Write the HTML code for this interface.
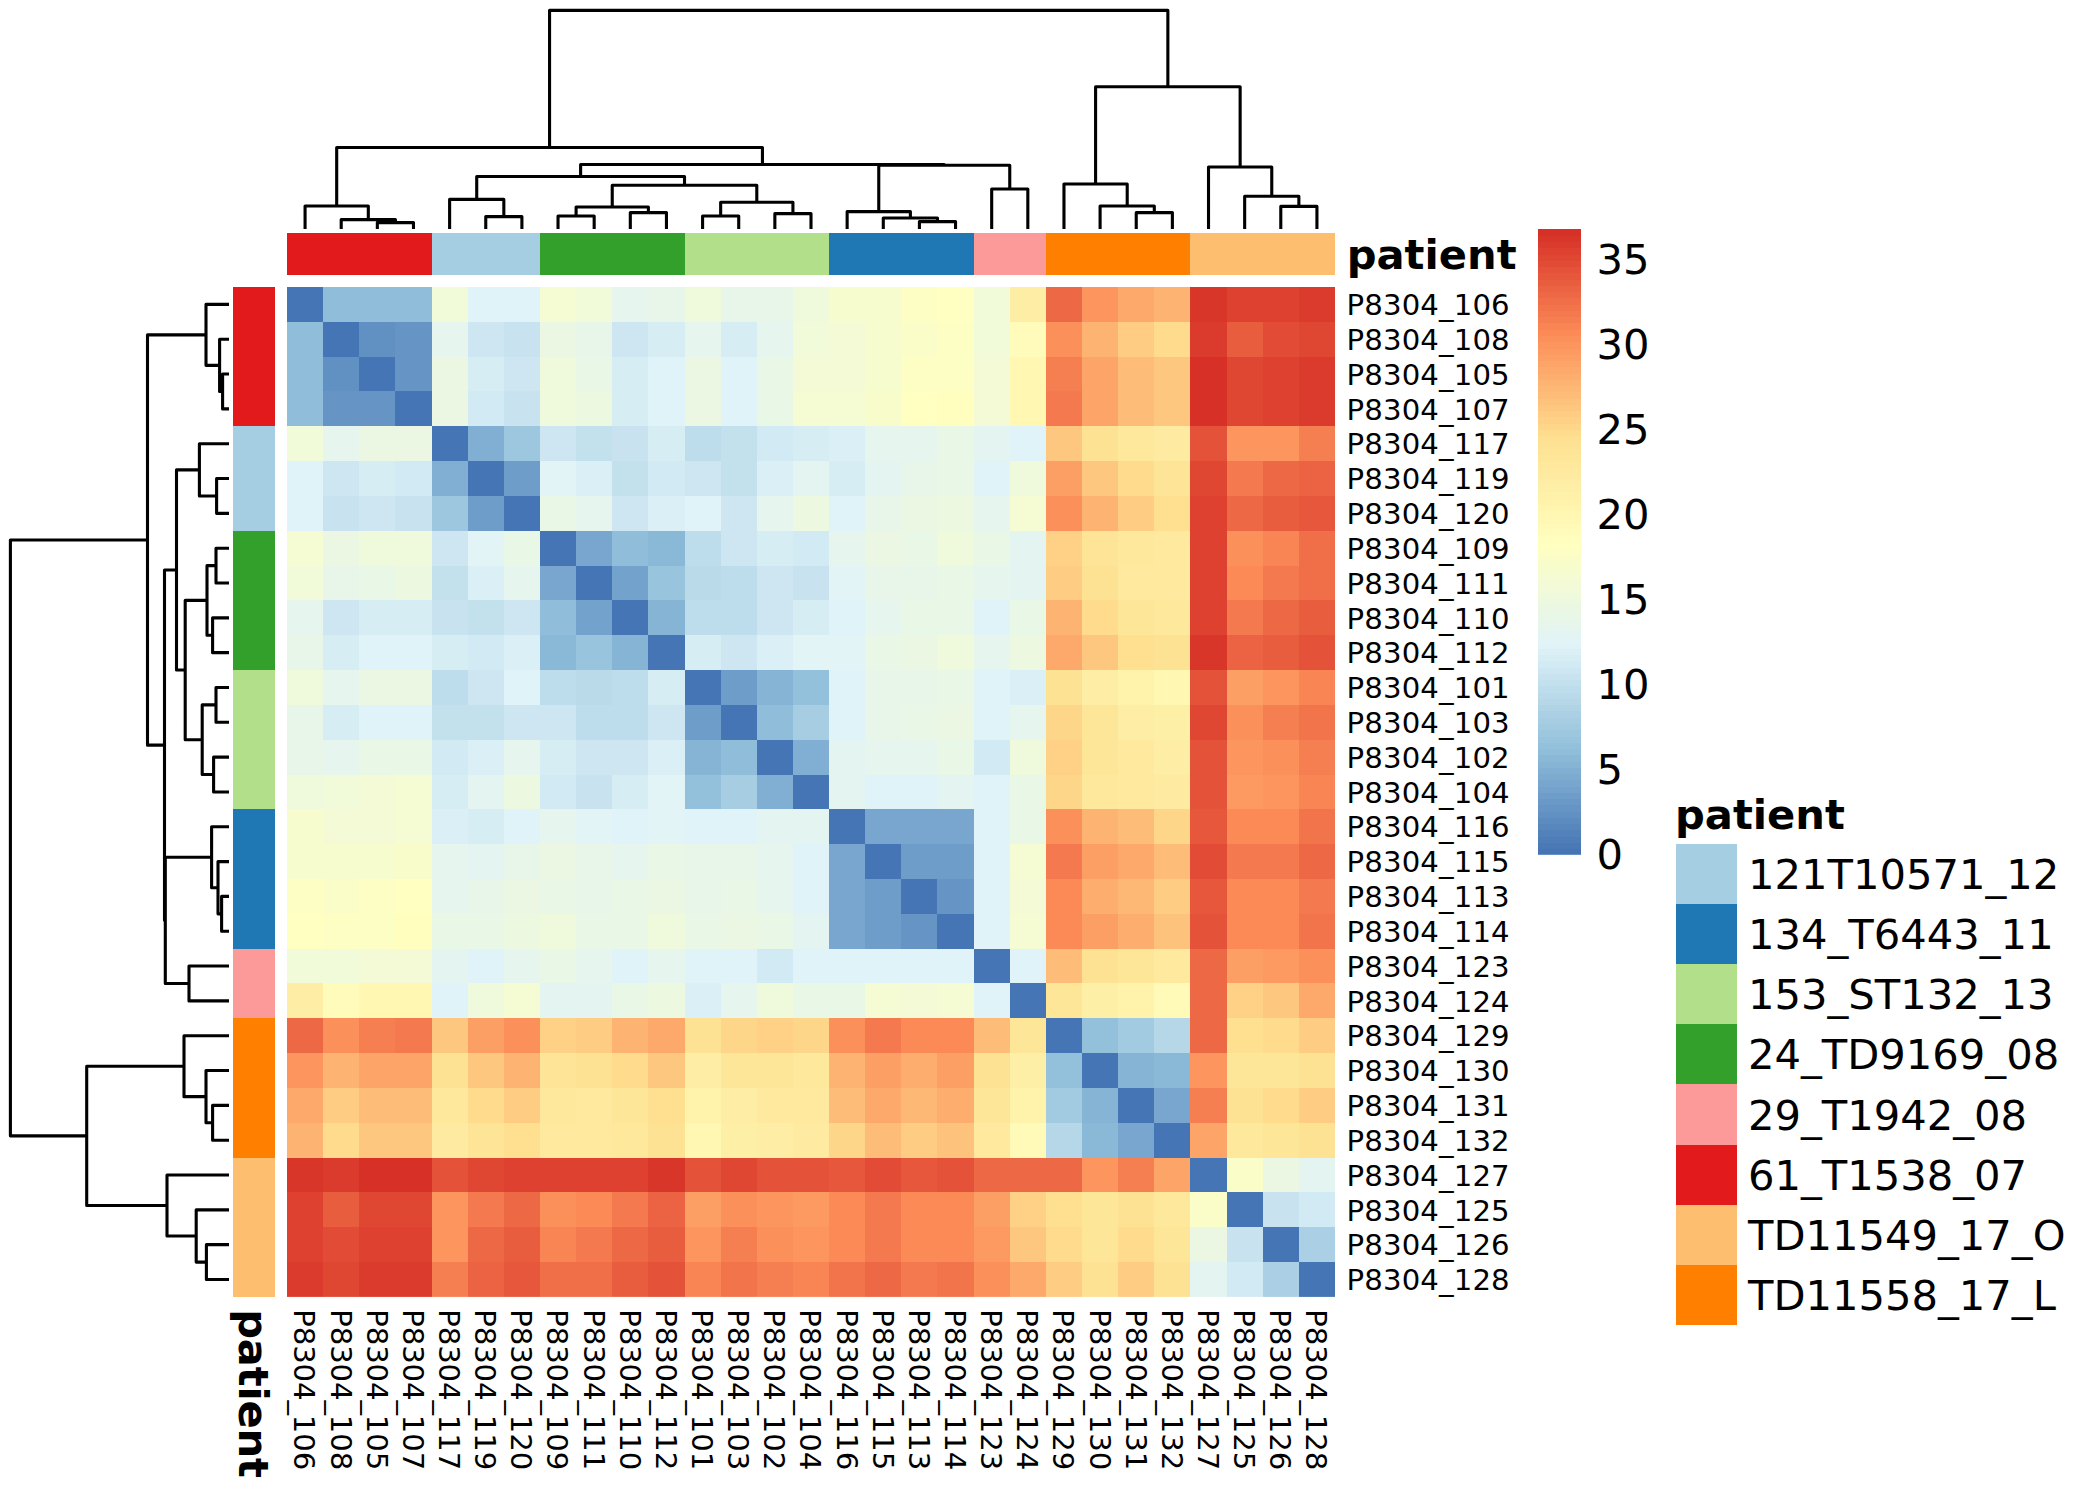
<!DOCTYPE html>
<html><head><meta charset="utf-8"><title>heatmap</title>
<style>html,body{margin:0;padding:0;background:#fff}svg{display:block}text{font-family:"DejaVu Sans","Liberation Sans",sans-serif;fill:#000}.b{font-weight:bold}</style></head><body>
<svg width="2100" height="1500" viewBox="0 0 2100 1500">
<rect width="2100" height="1500" fill="#fff"/>
<g shape-rendering="crispEdges">
<rect x="287" y="287" width="36.74" height="35.42" fill="#4575B4"/>
<rect x="323.14" y="287" width="36.74" height="35.42" fill="#8FBDDA"/>
<rect x="359.28" y="287" width="36.74" height="35.42" fill="#8FBDDA"/>
<rect x="395.41" y="287" width="36.74" height="35.42" fill="#8FBDDA"/>
<rect x="431.55" y="287" width="36.74" height="35.42" fill="#F1FAD9"/>
<rect x="467.69" y="287" width="36.74" height="35.42" fill="#E0F3F8"/>
<rect x="503.83" y="287" width="36.74" height="35.42" fill="#E0F3F8"/>
<rect x="539.97" y="287" width="36.74" height="35.42" fill="#F5FBD2"/>
<rect x="576.1" y="287" width="36.74" height="35.42" fill="#F1FAD9"/>
<rect x="612.24" y="287" width="36.74" height="35.42" fill="#E6F5EE"/>
<rect x="648.38" y="287" width="36.74" height="35.42" fill="#E8F6EA"/>
<rect x="684.52" y="287" width="36.74" height="35.42" fill="#EFF9DC"/>
<rect x="720.66" y="287" width="36.74" height="35.42" fill="#E8F6EA"/>
<rect x="756.79" y="287" width="36.74" height="35.42" fill="#E8F6EA"/>
<rect x="792.93" y="287" width="36.74" height="35.42" fill="#EFF9DC"/>
<rect x="829.07" y="287" width="36.74" height="35.42" fill="#F7FCCF"/>
<rect x="865.21" y="287" width="36.74" height="35.42" fill="#F7FCCF"/>
<rect x="901.34" y="287" width="36.74" height="35.42" fill="#FCFEC4"/>
<rect x="937.48" y="287" width="36.74" height="35.42" fill="#FEFFC1"/>
<rect x="973.62" y="287" width="36.74" height="35.42" fill="#F1FAD9"/>
<rect x="1009.76" y="287" width="36.74" height="35.42" fill="#FEEDA4"/>
<rect x="1045.9" y="287" width="36.74" height="35.42" fill="#ED6845"/>
<rect x="1082.03" y="287" width="36.74" height="35.42" fill="#FC955E"/>
<rect x="1118.17" y="287" width="36.74" height="35.42" fill="#FDA96B"/>
<rect x="1154.31" y="287" width="36.74" height="35.42" fill="#FDB372"/>
<rect x="1190.45" y="287" width="36.74" height="35.42" fill="#D9362A"/>
<rect x="1226.59" y="287" width="36.74" height="35.42" fill="#DE4130"/>
<rect x="1262.72" y="287" width="36.74" height="35.42" fill="#DE4130"/>
<rect x="1298.86" y="287" width="36.74" height="35.42" fill="#DB3B2D"/>
<rect x="287" y="321.82" width="36.74" height="35.42" fill="#8FBDDA"/>
<rect x="323.14" y="321.82" width="36.74" height="35.42" fill="#4575B4"/>
<rect x="359.28" y="321.82" width="36.74" height="35.42" fill="#6190C2"/>
<rect x="395.41" y="321.82" width="36.74" height="35.42" fill="#6594C5"/>
<rect x="431.55" y="321.82" width="36.74" height="35.42" fill="#E6F5EE"/>
<rect x="467.69" y="321.82" width="36.74" height="35.42" fill="#CDE6F1"/>
<rect x="503.83" y="321.82" width="36.74" height="35.42" fill="#C8E3EF"/>
<rect x="539.97" y="321.82" width="36.74" height="35.42" fill="#EBF7E3"/>
<rect x="576.1" y="321.82" width="36.74" height="35.42" fill="#E8F6EA"/>
<rect x="612.24" y="321.82" width="36.74" height="35.42" fill="#CDE6F1"/>
<rect x="648.38" y="321.82" width="36.74" height="35.42" fill="#D6EDF4"/>
<rect x="684.52" y="321.82" width="36.74" height="35.42" fill="#E6F5EE"/>
<rect x="720.66" y="321.82" width="36.74" height="35.42" fill="#D6EDF4"/>
<rect x="756.79" y="321.82" width="36.74" height="35.42" fill="#E6F5EE"/>
<rect x="792.93" y="321.82" width="36.74" height="35.42" fill="#F1FAD9"/>
<rect x="829.07" y="321.82" width="36.74" height="35.42" fill="#F3FAD5"/>
<rect x="865.21" y="321.82" width="36.74" height="35.42" fill="#F7FCCF"/>
<rect x="901.34" y="321.82" width="36.74" height="35.42" fill="#FAFDC8"/>
<rect x="937.48" y="321.82" width="36.74" height="35.42" fill="#FCFEC4"/>
<rect x="973.62" y="321.82" width="36.74" height="35.42" fill="#F1FAD9"/>
<rect x="1009.76" y="321.82" width="36.74" height="35.42" fill="#FFFCBB"/>
<rect x="1045.9" y="321.82" width="36.74" height="35.42" fill="#FC905B"/>
<rect x="1082.03" y="321.82" width="36.74" height="35.42" fill="#FDB372"/>
<rect x="1118.17" y="321.82" width="36.74" height="35.42" fill="#FECC83"/>
<rect x="1154.31" y="321.82" width="36.74" height="35.42" fill="#FEDB8D"/>
<rect x="1190.45" y="321.82" width="36.74" height="35.42" fill="#DB3B2D"/>
<rect x="1226.59" y="321.82" width="36.74" height="35.42" fill="#E95D3F"/>
<rect x="1262.72" y="321.82" width="36.74" height="35.42" fill="#E24C36"/>
<rect x="1298.86" y="321.82" width="36.74" height="35.42" fill="#E04733"/>
<rect x="287" y="356.65" width="36.74" height="35.42" fill="#8FBDDA"/>
<rect x="323.14" y="356.65" width="36.74" height="35.42" fill="#6190C2"/>
<rect x="359.28" y="356.65" width="36.74" height="35.42" fill="#4575B4"/>
<rect x="395.41" y="356.65" width="36.74" height="35.42" fill="#6594C5"/>
<rect x="431.55" y="356.65" width="36.74" height="35.42" fill="#EBF7E3"/>
<rect x="467.69" y="356.65" width="36.74" height="35.42" fill="#D6EDF4"/>
<rect x="503.83" y="356.65" width="36.74" height="35.42" fill="#CDE6F1"/>
<rect x="539.97" y="356.65" width="36.74" height="35.42" fill="#EFF9DC"/>
<rect x="576.1" y="356.65" width="36.74" height="35.42" fill="#E9F7E7"/>
<rect x="612.24" y="356.65" width="36.74" height="35.42" fill="#D6EDF4"/>
<rect x="648.38" y="356.65" width="36.74" height="35.42" fill="#E0F3F8"/>
<rect x="684.52" y="356.65" width="36.74" height="35.42" fill="#EBF7E3"/>
<rect x="720.66" y="356.65" width="36.74" height="35.42" fill="#E0F3F8"/>
<rect x="756.79" y="356.65" width="36.74" height="35.42" fill="#E9F7E7"/>
<rect x="792.93" y="356.65" width="36.74" height="35.42" fill="#F3FAD5"/>
<rect x="829.07" y="356.65" width="36.74" height="35.42" fill="#F3FAD5"/>
<rect x="865.21" y="356.65" width="36.74" height="35.42" fill="#F7FCCF"/>
<rect x="901.34" y="356.65" width="36.74" height="35.42" fill="#FCFEC4"/>
<rect x="937.48" y="356.65" width="36.74" height="35.42" fill="#FCFEC4"/>
<rect x="973.62" y="356.65" width="36.74" height="35.42" fill="#F3FAD5"/>
<rect x="1009.76" y="356.65" width="36.74" height="35.42" fill="#FFF7B2"/>
<rect x="1045.9" y="356.65" width="36.74" height="35.42" fill="#F67F51"/>
<rect x="1082.03" y="356.65" width="36.74" height="35.42" fill="#FDA468"/>
<rect x="1118.17" y="356.65" width="36.74" height="35.42" fill="#FDBD79"/>
<rect x="1154.31" y="356.65" width="36.74" height="35.42" fill="#FDC77F"/>
<rect x="1190.45" y="356.65" width="36.74" height="35.42" fill="#D73027"/>
<rect x="1226.59" y="356.65" width="36.74" height="35.42" fill="#E04733"/>
<rect x="1262.72" y="356.65" width="36.74" height="35.42" fill="#DE4130"/>
<rect x="1298.86" y="356.65" width="36.74" height="35.42" fill="#DB3B2D"/>
<rect x="287" y="391.47" width="36.74" height="35.42" fill="#8FBDDA"/>
<rect x="323.14" y="391.47" width="36.74" height="35.42" fill="#6594C5"/>
<rect x="359.28" y="391.47" width="36.74" height="35.42" fill="#6594C5"/>
<rect x="395.41" y="391.47" width="36.74" height="35.42" fill="#4575B4"/>
<rect x="431.55" y="391.47" width="36.74" height="35.42" fill="#EBF7E3"/>
<rect x="467.69" y="391.47" width="36.74" height="35.42" fill="#D2EAF3"/>
<rect x="503.83" y="391.47" width="36.74" height="35.42" fill="#C8E3EF"/>
<rect x="539.97" y="391.47" width="36.74" height="35.42" fill="#EFF9DC"/>
<rect x="576.1" y="391.47" width="36.74" height="35.42" fill="#EDF8E0"/>
<rect x="612.24" y="391.47" width="36.74" height="35.42" fill="#D6EDF4"/>
<rect x="648.38" y="391.47" width="36.74" height="35.42" fill="#E0F3F8"/>
<rect x="684.52" y="391.47" width="36.74" height="35.42" fill="#EBF7E3"/>
<rect x="720.66" y="391.47" width="36.74" height="35.42" fill="#E0F3F8"/>
<rect x="756.79" y="391.47" width="36.74" height="35.42" fill="#E9F7E7"/>
<rect x="792.93" y="391.47" width="36.74" height="35.42" fill="#F5FBD2"/>
<rect x="829.07" y="391.47" width="36.74" height="35.42" fill="#F5FBD2"/>
<rect x="865.21" y="391.47" width="36.74" height="35.42" fill="#F8FCCB"/>
<rect x="901.34" y="391.47" width="36.74" height="35.42" fill="#FEFFC1"/>
<rect x="937.48" y="391.47" width="36.74" height="35.42" fill="#FFFEBE"/>
<rect x="973.62" y="391.47" width="36.74" height="35.42" fill="#F3FAD5"/>
<rect x="1009.76" y="391.47" width="36.74" height="35.42" fill="#FFF7B2"/>
<rect x="1045.9" y="391.47" width="36.74" height="35.42" fill="#F4794E"/>
<rect x="1082.03" y="391.47" width="36.74" height="35.42" fill="#FDA468"/>
<rect x="1118.17" y="391.47" width="36.74" height="35.42" fill="#FDBD79"/>
<rect x="1154.31" y="391.47" width="36.74" height="35.42" fill="#FDC77F"/>
<rect x="1190.45" y="391.47" width="36.74" height="35.42" fill="#D73027"/>
<rect x="1226.59" y="391.47" width="36.74" height="35.42" fill="#E04733"/>
<rect x="1262.72" y="391.47" width="36.74" height="35.42" fill="#DE4130"/>
<rect x="1298.86" y="391.47" width="36.74" height="35.42" fill="#DB3B2D"/>
<rect x="287" y="426.3" width="36.74" height="35.42" fill="#F1FAD9"/>
<rect x="323.14" y="426.3" width="36.74" height="35.42" fill="#E6F5EE"/>
<rect x="359.28" y="426.3" width="36.74" height="35.42" fill="#EBF7E3"/>
<rect x="395.41" y="426.3" width="36.74" height="35.42" fill="#EBF7E3"/>
<rect x="431.55" y="426.3" width="36.74" height="35.42" fill="#4575B4"/>
<rect x="467.69" y="426.3" width="36.74" height="35.42" fill="#81AFD3"/>
<rect x="503.83" y="426.3" width="36.74" height="35.42" fill="#9DC7DF"/>
<rect x="539.97" y="426.3" width="36.74" height="35.42" fill="#CDE6F1"/>
<rect x="576.1" y="426.3" width="36.74" height="35.42" fill="#C3E0ED"/>
<rect x="612.24" y="426.3" width="36.74" height="35.42" fill="#C8E3EF"/>
<rect x="648.38" y="426.3" width="36.74" height="35.42" fill="#D6EDF4"/>
<rect x="684.52" y="426.3" width="36.74" height="35.42" fill="#BEDDEC"/>
<rect x="720.66" y="426.3" width="36.74" height="35.42" fill="#C3E0ED"/>
<rect x="756.79" y="426.3" width="36.74" height="35.42" fill="#D2EAF3"/>
<rect x="792.93" y="426.3" width="36.74" height="35.42" fill="#D6EDF4"/>
<rect x="829.07" y="426.3" width="36.74" height="35.42" fill="#DBF0F6"/>
<rect x="865.21" y="426.3" width="36.74" height="35.42" fill="#E6F5EE"/>
<rect x="901.34" y="426.3" width="36.74" height="35.42" fill="#E6F5EE"/>
<rect x="937.48" y="426.3" width="36.74" height="35.42" fill="#E9F7E7"/>
<rect x="973.62" y="426.3" width="36.74" height="35.42" fill="#E4F4F1"/>
<rect x="1009.76" y="426.3" width="36.74" height="35.42" fill="#E0F3F8"/>
<rect x="1045.9" y="426.3" width="36.74" height="35.42" fill="#FDC77F"/>
<rect x="1082.03" y="426.3" width="36.74" height="35.42" fill="#FEE293"/>
<rect x="1118.17" y="426.3" width="36.74" height="35.42" fill="#FEE89B"/>
<rect x="1154.31" y="426.3" width="36.74" height="35.42" fill="#FEEBA1"/>
<rect x="1190.45" y="426.3" width="36.74" height="35.42" fill="#E45239"/>
<rect x="1226.59" y="426.3" width="36.74" height="35.42" fill="#FC955E"/>
<rect x="1262.72" y="426.3" width="36.74" height="35.42" fill="#FC955E"/>
<rect x="1298.86" y="426.3" width="36.74" height="35.42" fill="#F67F51"/>
<rect x="287" y="461.12" width="36.74" height="35.42" fill="#E0F3F8"/>
<rect x="323.14" y="461.12" width="36.74" height="35.42" fill="#CDE6F1"/>
<rect x="359.28" y="461.12" width="36.74" height="35.42" fill="#D6EDF4"/>
<rect x="395.41" y="461.12" width="36.74" height="35.42" fill="#D2EAF3"/>
<rect x="431.55" y="461.12" width="36.74" height="35.42" fill="#81AFD3"/>
<rect x="467.69" y="461.12" width="36.74" height="35.42" fill="#4575B4"/>
<rect x="503.83" y="461.12" width="36.74" height="35.42" fill="#6E9DC9"/>
<rect x="539.97" y="461.12" width="36.74" height="35.42" fill="#E2F4F5"/>
<rect x="576.1" y="461.12" width="36.74" height="35.42" fill="#DBF0F6"/>
<rect x="612.24" y="461.12" width="36.74" height="35.42" fill="#C3E0ED"/>
<rect x="648.38" y="461.12" width="36.74" height="35.42" fill="#D2EAF3"/>
<rect x="684.52" y="461.12" width="36.74" height="35.42" fill="#CDE6F1"/>
<rect x="720.66" y="461.12" width="36.74" height="35.42" fill="#C3E0ED"/>
<rect x="756.79" y="461.12" width="36.74" height="35.42" fill="#DBF0F6"/>
<rect x="792.93" y="461.12" width="36.74" height="35.42" fill="#E4F4F1"/>
<rect x="829.07" y="461.12" width="36.74" height="35.42" fill="#D6EDF4"/>
<rect x="865.21" y="461.12" width="36.74" height="35.42" fill="#E4F4F1"/>
<rect x="901.34" y="461.12" width="36.74" height="35.42" fill="#E8F6EA"/>
<rect x="937.48" y="461.12" width="36.74" height="35.42" fill="#E9F7E7"/>
<rect x="973.62" y="461.12" width="36.74" height="35.42" fill="#E0F3F8"/>
<rect x="1009.76" y="461.12" width="36.74" height="35.42" fill="#EFF9DC"/>
<rect x="1045.9" y="461.12" width="36.74" height="35.42" fill="#FC9F65"/>
<rect x="1082.03" y="461.12" width="36.74" height="35.42" fill="#FDC77F"/>
<rect x="1118.17" y="461.12" width="36.74" height="35.42" fill="#FEDB8D"/>
<rect x="1154.31" y="461.12" width="36.74" height="35.42" fill="#FEE496"/>
<rect x="1190.45" y="461.12" width="36.74" height="35.42" fill="#E04733"/>
<rect x="1226.59" y="461.12" width="36.74" height="35.42" fill="#F4794E"/>
<rect x="1262.72" y="461.12" width="36.74" height="35.42" fill="#ED6845"/>
<rect x="1298.86" y="461.12" width="36.74" height="35.42" fill="#EB6342"/>
<rect x="287" y="495.94" width="36.74" height="35.42" fill="#E0F3F8"/>
<rect x="323.14" y="495.94" width="36.74" height="35.42" fill="#C8E3EF"/>
<rect x="359.28" y="495.94" width="36.74" height="35.42" fill="#CDE6F1"/>
<rect x="395.41" y="495.94" width="36.74" height="35.42" fill="#C8E3EF"/>
<rect x="431.55" y="495.94" width="36.74" height="35.42" fill="#9DC7DF"/>
<rect x="467.69" y="495.94" width="36.74" height="35.42" fill="#6E9DC9"/>
<rect x="503.83" y="495.94" width="36.74" height="35.42" fill="#4575B4"/>
<rect x="539.97" y="495.94" width="36.74" height="35.42" fill="#E9F7E7"/>
<rect x="576.1" y="495.94" width="36.74" height="35.42" fill="#E6F5EE"/>
<rect x="612.24" y="495.94" width="36.74" height="35.42" fill="#CDE6F1"/>
<rect x="648.38" y="495.94" width="36.74" height="35.42" fill="#DBF0F6"/>
<rect x="684.52" y="495.94" width="36.74" height="35.42" fill="#E0F3F8"/>
<rect x="720.66" y="495.94" width="36.74" height="35.42" fill="#CDE6F1"/>
<rect x="756.79" y="495.94" width="36.74" height="35.42" fill="#E6F5EE"/>
<rect x="792.93" y="495.94" width="36.74" height="35.42" fill="#EDF8E0"/>
<rect x="829.07" y="495.94" width="36.74" height="35.42" fill="#E0F3F8"/>
<rect x="865.21" y="495.94" width="36.74" height="35.42" fill="#E8F6EA"/>
<rect x="901.34" y="495.94" width="36.74" height="35.42" fill="#EBF7E3"/>
<rect x="937.48" y="495.94" width="36.74" height="35.42" fill="#EDF8E0"/>
<rect x="973.62" y="495.94" width="36.74" height="35.42" fill="#E6F5EE"/>
<rect x="1009.76" y="495.94" width="36.74" height="35.42" fill="#F5FBD2"/>
<rect x="1045.9" y="495.94" width="36.74" height="35.42" fill="#FC905B"/>
<rect x="1082.03" y="495.94" width="36.74" height="35.42" fill="#FDB372"/>
<rect x="1118.17" y="495.94" width="36.74" height="35.42" fill="#FECC83"/>
<rect x="1154.31" y="495.94" width="36.74" height="35.42" fill="#FEE090"/>
<rect x="1190.45" y="495.94" width="36.74" height="35.42" fill="#DE4130"/>
<rect x="1226.59" y="495.94" width="36.74" height="35.42" fill="#ED6845"/>
<rect x="1262.72" y="495.94" width="36.74" height="35.42" fill="#E95D3F"/>
<rect x="1298.86" y="495.94" width="36.74" height="35.42" fill="#E7573C"/>
<rect x="287" y="530.77" width="36.74" height="35.42" fill="#F5FBD2"/>
<rect x="323.14" y="530.77" width="36.74" height="35.42" fill="#EBF7E3"/>
<rect x="359.28" y="530.77" width="36.74" height="35.42" fill="#EFF9DC"/>
<rect x="395.41" y="530.77" width="36.74" height="35.42" fill="#EFF9DC"/>
<rect x="431.55" y="530.77" width="36.74" height="35.42" fill="#CDE6F1"/>
<rect x="467.69" y="530.77" width="36.74" height="35.42" fill="#E2F4F5"/>
<rect x="503.83" y="530.77" width="36.74" height="35.42" fill="#E9F7E7"/>
<rect x="539.97" y="530.77" width="36.74" height="35.42" fill="#4575B4"/>
<rect x="576.1" y="530.77" width="36.74" height="35.42" fill="#78A6CE"/>
<rect x="612.24" y="530.77" width="36.74" height="35.42" fill="#8FBDDA"/>
<rect x="648.38" y="530.77" width="36.74" height="35.42" fill="#8AB8D7"/>
<rect x="684.52" y="530.77" width="36.74" height="35.42" fill="#BEDDEC"/>
<rect x="720.66" y="530.77" width="36.74" height="35.42" fill="#CDE6F1"/>
<rect x="756.79" y="530.77" width="36.74" height="35.42" fill="#D6EDF4"/>
<rect x="792.93" y="530.77" width="36.74" height="35.42" fill="#D2EAF3"/>
<rect x="829.07" y="530.77" width="36.74" height="35.42" fill="#E6F5EE"/>
<rect x="865.21" y="530.77" width="36.74" height="35.42" fill="#EBF7E3"/>
<rect x="901.34" y="530.77" width="36.74" height="35.42" fill="#E9F7E7"/>
<rect x="937.48" y="530.77" width="36.74" height="35.42" fill="#EFF9DC"/>
<rect x="973.62" y="530.77" width="36.74" height="35.42" fill="#E9F7E7"/>
<rect x="1009.76" y="530.77" width="36.74" height="35.42" fill="#E4F4F1"/>
<rect x="1045.9" y="530.77" width="36.74" height="35.42" fill="#FED186"/>
<rect x="1082.03" y="530.77" width="36.74" height="35.42" fill="#FEE496"/>
<rect x="1118.17" y="530.77" width="36.74" height="35.42" fill="#FEE89B"/>
<rect x="1154.31" y="530.77" width="36.74" height="35.42" fill="#FEE99E"/>
<rect x="1190.45" y="530.77" width="36.74" height="35.42" fill="#DE4130"/>
<rect x="1226.59" y="530.77" width="36.74" height="35.42" fill="#FC905B"/>
<rect x="1262.72" y="530.77" width="36.74" height="35.42" fill="#F98554"/>
<rect x="1298.86" y="530.77" width="36.74" height="35.42" fill="#F06E48"/>
<rect x="287" y="565.59" width="36.74" height="35.42" fill="#F1FAD9"/>
<rect x="323.14" y="565.59" width="36.74" height="35.42" fill="#E8F6EA"/>
<rect x="359.28" y="565.59" width="36.74" height="35.42" fill="#E9F7E7"/>
<rect x="395.41" y="565.59" width="36.74" height="35.42" fill="#EDF8E0"/>
<rect x="431.55" y="565.59" width="36.74" height="35.42" fill="#C3E0ED"/>
<rect x="467.69" y="565.59" width="36.74" height="35.42" fill="#DBF0F6"/>
<rect x="503.83" y="565.59" width="36.74" height="35.42" fill="#E6F5EE"/>
<rect x="539.97" y="565.59" width="36.74" height="35.42" fill="#78A6CE"/>
<rect x="576.1" y="565.59" width="36.74" height="35.42" fill="#4575B4"/>
<rect x="612.24" y="565.59" width="36.74" height="35.42" fill="#73A2CC"/>
<rect x="648.38" y="565.59" width="36.74" height="35.42" fill="#98C4DE"/>
<rect x="684.52" y="565.59" width="36.74" height="35.42" fill="#BADAEA"/>
<rect x="720.66" y="565.59" width="36.74" height="35.42" fill="#BEDDEC"/>
<rect x="756.79" y="565.59" width="36.74" height="35.42" fill="#CDE6F1"/>
<rect x="792.93" y="565.59" width="36.74" height="35.42" fill="#C8E3EF"/>
<rect x="829.07" y="565.59" width="36.74" height="35.42" fill="#E2F4F5"/>
<rect x="865.21" y="565.59" width="36.74" height="35.42" fill="#E8F6EA"/>
<rect x="901.34" y="565.59" width="36.74" height="35.42" fill="#E8F6EA"/>
<rect x="937.48" y="565.59" width="36.74" height="35.42" fill="#E9F7E7"/>
<rect x="973.62" y="565.59" width="36.74" height="35.42" fill="#E6F5EE"/>
<rect x="1009.76" y="565.59" width="36.74" height="35.42" fill="#E4F4F1"/>
<rect x="1045.9" y="565.59" width="36.74" height="35.42" fill="#FECC83"/>
<rect x="1082.03" y="565.59" width="36.74" height="35.42" fill="#FEE293"/>
<rect x="1118.17" y="565.59" width="36.74" height="35.42" fill="#FEE99E"/>
<rect x="1154.31" y="565.59" width="36.74" height="35.42" fill="#FEE99E"/>
<rect x="1190.45" y="565.59" width="36.74" height="35.42" fill="#DE4130"/>
<rect x="1226.59" y="565.59" width="36.74" height="35.42" fill="#FB8A57"/>
<rect x="1262.72" y="565.59" width="36.74" height="35.42" fill="#F4794E"/>
<rect x="1298.86" y="565.59" width="36.74" height="35.42" fill="#F06E48"/>
<rect x="287" y="600.42" width="36.74" height="35.42" fill="#E6F5EE"/>
<rect x="323.14" y="600.42" width="36.74" height="35.42" fill="#CDE6F1"/>
<rect x="359.28" y="600.42" width="36.74" height="35.42" fill="#D6EDF4"/>
<rect x="395.41" y="600.42" width="36.74" height="35.42" fill="#D6EDF4"/>
<rect x="431.55" y="600.42" width="36.74" height="35.42" fill="#C8E3EF"/>
<rect x="467.69" y="600.42" width="36.74" height="35.42" fill="#C3E0ED"/>
<rect x="503.83" y="600.42" width="36.74" height="35.42" fill="#CDE6F1"/>
<rect x="539.97" y="600.42" width="36.74" height="35.42" fill="#8FBDDA"/>
<rect x="576.1" y="600.42" width="36.74" height="35.42" fill="#73A2CC"/>
<rect x="612.24" y="600.42" width="36.74" height="35.42" fill="#4575B4"/>
<rect x="648.38" y="600.42" width="36.74" height="35.42" fill="#85B4D5"/>
<rect x="684.52" y="600.42" width="36.74" height="35.42" fill="#BEDDEC"/>
<rect x="720.66" y="600.42" width="36.74" height="35.42" fill="#BEDDEC"/>
<rect x="756.79" y="600.42" width="36.74" height="35.42" fill="#CDE6F1"/>
<rect x="792.93" y="600.42" width="36.74" height="35.42" fill="#D6EDF4"/>
<rect x="829.07" y="600.42" width="36.74" height="35.42" fill="#E0F3F8"/>
<rect x="865.21" y="600.42" width="36.74" height="35.42" fill="#E6F5EE"/>
<rect x="901.34" y="600.42" width="36.74" height="35.42" fill="#E9F7E7"/>
<rect x="937.48" y="600.42" width="36.74" height="35.42" fill="#E9F7E7"/>
<rect x="973.62" y="600.42" width="36.74" height="35.42" fill="#E0F3F8"/>
<rect x="1009.76" y="600.42" width="36.74" height="35.42" fill="#E9F7E7"/>
<rect x="1045.9" y="600.42" width="36.74" height="35.42" fill="#FDB372"/>
<rect x="1082.03" y="600.42" width="36.74" height="35.42" fill="#FEDB8D"/>
<rect x="1118.17" y="600.42" width="36.74" height="35.42" fill="#FEE699"/>
<rect x="1154.31" y="600.42" width="36.74" height="35.42" fill="#FEE89B"/>
<rect x="1190.45" y="600.42" width="36.74" height="35.42" fill="#DE4130"/>
<rect x="1226.59" y="600.42" width="36.74" height="35.42" fill="#F4794E"/>
<rect x="1262.72" y="600.42" width="36.74" height="35.42" fill="#ED6845"/>
<rect x="1298.86" y="600.42" width="36.74" height="35.42" fill="#E95D3F"/>
<rect x="287" y="635.24" width="36.74" height="35.42" fill="#E8F6EA"/>
<rect x="323.14" y="635.24" width="36.74" height="35.42" fill="#D6EDF4"/>
<rect x="359.28" y="635.24" width="36.74" height="35.42" fill="#E0F3F8"/>
<rect x="395.41" y="635.24" width="36.74" height="35.42" fill="#E0F3F8"/>
<rect x="431.55" y="635.24" width="36.74" height="35.42" fill="#D6EDF4"/>
<rect x="467.69" y="635.24" width="36.74" height="35.42" fill="#D2EAF3"/>
<rect x="503.83" y="635.24" width="36.74" height="35.42" fill="#DBF0F6"/>
<rect x="539.97" y="635.24" width="36.74" height="35.42" fill="#8AB8D7"/>
<rect x="576.1" y="635.24" width="36.74" height="35.42" fill="#98C4DE"/>
<rect x="612.24" y="635.24" width="36.74" height="35.42" fill="#85B4D5"/>
<rect x="648.38" y="635.24" width="36.74" height="35.42" fill="#4575B4"/>
<rect x="684.52" y="635.24" width="36.74" height="35.42" fill="#D6EDF4"/>
<rect x="720.66" y="635.24" width="36.74" height="35.42" fill="#CDE6F1"/>
<rect x="756.79" y="635.24" width="36.74" height="35.42" fill="#DBF0F6"/>
<rect x="792.93" y="635.24" width="36.74" height="35.42" fill="#E2F4F5"/>
<rect x="829.07" y="635.24" width="36.74" height="35.42" fill="#E2F4F5"/>
<rect x="865.21" y="635.24" width="36.74" height="35.42" fill="#E9F7E7"/>
<rect x="901.34" y="635.24" width="36.74" height="35.42" fill="#EBF7E3"/>
<rect x="937.48" y="635.24" width="36.74" height="35.42" fill="#EFF9DC"/>
<rect x="973.62" y="635.24" width="36.74" height="35.42" fill="#E6F5EE"/>
<rect x="1009.76" y="635.24" width="36.74" height="35.42" fill="#EDF8E0"/>
<rect x="1045.9" y="635.24" width="36.74" height="35.42" fill="#FDA96B"/>
<rect x="1082.03" y="635.24" width="36.74" height="35.42" fill="#FDC77F"/>
<rect x="1118.17" y="635.24" width="36.74" height="35.42" fill="#FEE090"/>
<rect x="1154.31" y="635.24" width="36.74" height="35.42" fill="#FEE293"/>
<rect x="1190.45" y="635.24" width="36.74" height="35.42" fill="#D9362A"/>
<rect x="1226.59" y="635.24" width="36.74" height="35.42" fill="#EB6342"/>
<rect x="1262.72" y="635.24" width="36.74" height="35.42" fill="#E95D3F"/>
<rect x="1298.86" y="635.24" width="36.74" height="35.42" fill="#E45239"/>
<rect x="287" y="670.07" width="36.74" height="35.42" fill="#EFF9DC"/>
<rect x="323.14" y="670.07" width="36.74" height="35.42" fill="#E6F5EE"/>
<rect x="359.28" y="670.07" width="36.74" height="35.42" fill="#EBF7E3"/>
<rect x="395.41" y="670.07" width="36.74" height="35.42" fill="#EBF7E3"/>
<rect x="431.55" y="670.07" width="36.74" height="35.42" fill="#BEDDEC"/>
<rect x="467.69" y="670.07" width="36.74" height="35.42" fill="#CDE6F1"/>
<rect x="503.83" y="670.07" width="36.74" height="35.42" fill="#E0F3F8"/>
<rect x="539.97" y="670.07" width="36.74" height="35.42" fill="#BEDDEC"/>
<rect x="576.1" y="670.07" width="36.74" height="35.42" fill="#BADAEA"/>
<rect x="612.24" y="670.07" width="36.74" height="35.42" fill="#BEDDEC"/>
<rect x="648.38" y="670.07" width="36.74" height="35.42" fill="#D6EDF4"/>
<rect x="684.52" y="670.07" width="36.74" height="35.42" fill="#4575B4"/>
<rect x="720.66" y="670.07" width="36.74" height="35.42" fill="#6E9DC9"/>
<rect x="756.79" y="670.07" width="36.74" height="35.42" fill="#85B4D5"/>
<rect x="792.93" y="670.07" width="36.74" height="35.42" fill="#93C1DC"/>
<rect x="829.07" y="670.07" width="36.74" height="35.42" fill="#E0F3F8"/>
<rect x="865.21" y="670.07" width="36.74" height="35.42" fill="#E8F6EA"/>
<rect x="901.34" y="670.07" width="36.74" height="35.42" fill="#E8F6EA"/>
<rect x="937.48" y="670.07" width="36.74" height="35.42" fill="#E9F7E7"/>
<rect x="973.62" y="670.07" width="36.74" height="35.42" fill="#E0F3F8"/>
<rect x="1009.76" y="670.07" width="36.74" height="35.42" fill="#DBF0F6"/>
<rect x="1045.9" y="670.07" width="36.74" height="35.42" fill="#FEE293"/>
<rect x="1082.03" y="670.07" width="36.74" height="35.42" fill="#FEEDA4"/>
<rect x="1118.17" y="670.07" width="36.74" height="35.42" fill="#FFF3AC"/>
<rect x="1154.31" y="670.07" width="36.74" height="35.42" fill="#FFF7B2"/>
<rect x="1190.45" y="670.07" width="36.74" height="35.42" fill="#E45239"/>
<rect x="1226.59" y="670.07" width="36.74" height="35.42" fill="#FC9F65"/>
<rect x="1262.72" y="670.07" width="36.74" height="35.42" fill="#FC955E"/>
<rect x="1298.86" y="670.07" width="36.74" height="35.42" fill="#F98554"/>
<rect x="287" y="704.89" width="36.74" height="35.42" fill="#E8F6EA"/>
<rect x="323.14" y="704.89" width="36.74" height="35.42" fill="#D6EDF4"/>
<rect x="359.28" y="704.89" width="36.74" height="35.42" fill="#E0F3F8"/>
<rect x="395.41" y="704.89" width="36.74" height="35.42" fill="#E0F3F8"/>
<rect x="431.55" y="704.89" width="36.74" height="35.42" fill="#C3E0ED"/>
<rect x="467.69" y="704.89" width="36.74" height="35.42" fill="#C3E0ED"/>
<rect x="503.83" y="704.89" width="36.74" height="35.42" fill="#CDE6F1"/>
<rect x="539.97" y="704.89" width="36.74" height="35.42" fill="#CDE6F1"/>
<rect x="576.1" y="704.89" width="36.74" height="35.42" fill="#BEDDEC"/>
<rect x="612.24" y="704.89" width="36.74" height="35.42" fill="#BEDDEC"/>
<rect x="648.38" y="704.89" width="36.74" height="35.42" fill="#CDE6F1"/>
<rect x="684.52" y="704.89" width="36.74" height="35.42" fill="#6E9DC9"/>
<rect x="720.66" y="704.89" width="36.74" height="35.42" fill="#4575B4"/>
<rect x="756.79" y="704.89" width="36.74" height="35.42" fill="#8FBDDA"/>
<rect x="792.93" y="704.89" width="36.74" height="35.42" fill="#A7CDE3"/>
<rect x="829.07" y="704.89" width="36.74" height="35.42" fill="#E0F3F8"/>
<rect x="865.21" y="704.89" width="36.74" height="35.42" fill="#E8F6EA"/>
<rect x="901.34" y="704.89" width="36.74" height="35.42" fill="#E9F7E7"/>
<rect x="937.48" y="704.89" width="36.74" height="35.42" fill="#EBF7E3"/>
<rect x="973.62" y="704.89" width="36.74" height="35.42" fill="#E0F3F8"/>
<rect x="1009.76" y="704.89" width="36.74" height="35.42" fill="#E6F5EE"/>
<rect x="1045.9" y="704.89" width="36.74" height="35.42" fill="#FED689"/>
<rect x="1082.03" y="704.89" width="36.74" height="35.42" fill="#FEE699"/>
<rect x="1118.17" y="704.89" width="36.74" height="35.42" fill="#FEEDA4"/>
<rect x="1154.31" y="704.89" width="36.74" height="35.42" fill="#FEEFA7"/>
<rect x="1190.45" y="704.89" width="36.74" height="35.42" fill="#E04733"/>
<rect x="1226.59" y="704.89" width="36.74" height="35.42" fill="#FC905B"/>
<rect x="1262.72" y="704.89" width="36.74" height="35.42" fill="#F67F51"/>
<rect x="1298.86" y="704.89" width="36.74" height="35.42" fill="#F2744B"/>
<rect x="287" y="739.71" width="36.74" height="35.42" fill="#E8F6EA"/>
<rect x="323.14" y="739.71" width="36.74" height="35.42" fill="#E6F5EE"/>
<rect x="359.28" y="739.71" width="36.74" height="35.42" fill="#E9F7E7"/>
<rect x="395.41" y="739.71" width="36.74" height="35.42" fill="#E9F7E7"/>
<rect x="431.55" y="739.71" width="36.74" height="35.42" fill="#D2EAF3"/>
<rect x="467.69" y="739.71" width="36.74" height="35.42" fill="#DBF0F6"/>
<rect x="503.83" y="739.71" width="36.74" height="35.42" fill="#E6F5EE"/>
<rect x="539.97" y="739.71" width="36.74" height="35.42" fill="#D6EDF4"/>
<rect x="576.1" y="739.71" width="36.74" height="35.42" fill="#CDE6F1"/>
<rect x="612.24" y="739.71" width="36.74" height="35.42" fill="#CDE6F1"/>
<rect x="648.38" y="739.71" width="36.74" height="35.42" fill="#DBF0F6"/>
<rect x="684.52" y="739.71" width="36.74" height="35.42" fill="#85B4D5"/>
<rect x="720.66" y="739.71" width="36.74" height="35.42" fill="#8FBDDA"/>
<rect x="756.79" y="739.71" width="36.74" height="35.42" fill="#4575B4"/>
<rect x="792.93" y="739.71" width="36.74" height="35.42" fill="#81AFD3"/>
<rect x="829.07" y="739.71" width="36.74" height="35.42" fill="#E4F4F1"/>
<rect x="865.21" y="739.71" width="36.74" height="35.42" fill="#E6F5EE"/>
<rect x="901.34" y="739.71" width="36.74" height="35.42" fill="#E6F5EE"/>
<rect x="937.48" y="739.71" width="36.74" height="35.42" fill="#E9F7E7"/>
<rect x="973.62" y="739.71" width="36.74" height="35.42" fill="#D2EAF3"/>
<rect x="1009.76" y="739.71" width="36.74" height="35.42" fill="#EFF9DC"/>
<rect x="1045.9" y="739.71" width="36.74" height="35.42" fill="#FED186"/>
<rect x="1082.03" y="739.71" width="36.74" height="35.42" fill="#FEE699"/>
<rect x="1118.17" y="739.71" width="36.74" height="35.42" fill="#FEE99E"/>
<rect x="1154.31" y="739.71" width="36.74" height="35.42" fill="#FEEDA4"/>
<rect x="1190.45" y="739.71" width="36.74" height="35.42" fill="#E45239"/>
<rect x="1226.59" y="739.71" width="36.74" height="35.42" fill="#FC955E"/>
<rect x="1262.72" y="739.71" width="36.74" height="35.42" fill="#FC905B"/>
<rect x="1298.86" y="739.71" width="36.74" height="35.42" fill="#F67F51"/>
<rect x="287" y="774.54" width="36.74" height="35.42" fill="#EFF9DC"/>
<rect x="323.14" y="774.54" width="36.74" height="35.42" fill="#F1FAD9"/>
<rect x="359.28" y="774.54" width="36.74" height="35.42" fill="#F3FAD5"/>
<rect x="395.41" y="774.54" width="36.74" height="35.42" fill="#F5FBD2"/>
<rect x="431.55" y="774.54" width="36.74" height="35.42" fill="#D6EDF4"/>
<rect x="467.69" y="774.54" width="36.74" height="35.42" fill="#E4F4F1"/>
<rect x="503.83" y="774.54" width="36.74" height="35.42" fill="#EDF8E0"/>
<rect x="539.97" y="774.54" width="36.74" height="35.42" fill="#D2EAF3"/>
<rect x="576.1" y="774.54" width="36.74" height="35.42" fill="#C8E3EF"/>
<rect x="612.24" y="774.54" width="36.74" height="35.42" fill="#D6EDF4"/>
<rect x="648.38" y="774.54" width="36.74" height="35.42" fill="#E2F4F5"/>
<rect x="684.52" y="774.54" width="36.74" height="35.42" fill="#93C1DC"/>
<rect x="720.66" y="774.54" width="36.74" height="35.42" fill="#A7CDE3"/>
<rect x="756.79" y="774.54" width="36.74" height="35.42" fill="#81AFD3"/>
<rect x="792.93" y="774.54" width="36.74" height="35.42" fill="#4575B4"/>
<rect x="829.07" y="774.54" width="36.74" height="35.42" fill="#E4F4F1"/>
<rect x="865.21" y="774.54" width="36.74" height="35.42" fill="#E0F3F8"/>
<rect x="901.34" y="774.54" width="36.74" height="35.42" fill="#E0F3F8"/>
<rect x="937.48" y="774.54" width="36.74" height="35.42" fill="#E4F4F1"/>
<rect x="973.62" y="774.54" width="36.74" height="35.42" fill="#E0F3F8"/>
<rect x="1009.76" y="774.54" width="36.74" height="35.42" fill="#E9F7E7"/>
<rect x="1045.9" y="774.54" width="36.74" height="35.42" fill="#FED689"/>
<rect x="1082.03" y="774.54" width="36.74" height="35.42" fill="#FEE89B"/>
<rect x="1118.17" y="774.54" width="36.74" height="35.42" fill="#FEE99E"/>
<rect x="1154.31" y="774.54" width="36.74" height="35.42" fill="#FEEBA1"/>
<rect x="1190.45" y="774.54" width="36.74" height="35.42" fill="#E45239"/>
<rect x="1226.59" y="774.54" width="36.74" height="35.42" fill="#FC9A61"/>
<rect x="1262.72" y="774.54" width="36.74" height="35.42" fill="#FC955E"/>
<rect x="1298.86" y="774.54" width="36.74" height="35.42" fill="#F98554"/>
<rect x="287" y="809.36" width="36.74" height="35.42" fill="#F7FCCF"/>
<rect x="323.14" y="809.36" width="36.74" height="35.42" fill="#F3FAD5"/>
<rect x="359.28" y="809.36" width="36.74" height="35.42" fill="#F3FAD5"/>
<rect x="395.41" y="809.36" width="36.74" height="35.42" fill="#F5FBD2"/>
<rect x="431.55" y="809.36" width="36.74" height="35.42" fill="#DBF0F6"/>
<rect x="467.69" y="809.36" width="36.74" height="35.42" fill="#D6EDF4"/>
<rect x="503.83" y="809.36" width="36.74" height="35.42" fill="#E0F3F8"/>
<rect x="539.97" y="809.36" width="36.74" height="35.42" fill="#E6F5EE"/>
<rect x="576.1" y="809.36" width="36.74" height="35.42" fill="#E2F4F5"/>
<rect x="612.24" y="809.36" width="36.74" height="35.42" fill="#E0F3F8"/>
<rect x="648.38" y="809.36" width="36.74" height="35.42" fill="#E2F4F5"/>
<rect x="684.52" y="809.36" width="36.74" height="35.42" fill="#E0F3F8"/>
<rect x="720.66" y="809.36" width="36.74" height="35.42" fill="#E0F3F8"/>
<rect x="756.79" y="809.36" width="36.74" height="35.42" fill="#E4F4F1"/>
<rect x="792.93" y="809.36" width="36.74" height="35.42" fill="#E4F4F1"/>
<rect x="829.07" y="809.36" width="36.74" height="35.42" fill="#4575B4"/>
<rect x="865.21" y="809.36" width="36.74" height="35.42" fill="#78A6CE"/>
<rect x="901.34" y="809.36" width="36.74" height="35.42" fill="#78A6CE"/>
<rect x="937.48" y="809.36" width="36.74" height="35.42" fill="#78A6CE"/>
<rect x="973.62" y="809.36" width="36.74" height="35.42" fill="#E0F3F8"/>
<rect x="1009.76" y="809.36" width="36.74" height="35.42" fill="#E9F7E7"/>
<rect x="1045.9" y="809.36" width="36.74" height="35.42" fill="#FC905B"/>
<rect x="1082.03" y="809.36" width="36.74" height="35.42" fill="#FDB372"/>
<rect x="1118.17" y="809.36" width="36.74" height="35.42" fill="#FDBD79"/>
<rect x="1154.31" y="809.36" width="36.74" height="35.42" fill="#FED689"/>
<rect x="1190.45" y="809.36" width="36.74" height="35.42" fill="#E7573C"/>
<rect x="1226.59" y="809.36" width="36.74" height="35.42" fill="#FB8A57"/>
<rect x="1262.72" y="809.36" width="36.74" height="35.42" fill="#FB8A57"/>
<rect x="1298.86" y="809.36" width="36.74" height="35.42" fill="#F2744B"/>
<rect x="287" y="844.19" width="36.74" height="35.42" fill="#F7FCCF"/>
<rect x="323.14" y="844.19" width="36.74" height="35.42" fill="#F7FCCF"/>
<rect x="359.28" y="844.19" width="36.74" height="35.42" fill="#F7FCCF"/>
<rect x="395.41" y="844.19" width="36.74" height="35.42" fill="#F8FCCB"/>
<rect x="431.55" y="844.19" width="36.74" height="35.42" fill="#E6F5EE"/>
<rect x="467.69" y="844.19" width="36.74" height="35.42" fill="#E4F4F1"/>
<rect x="503.83" y="844.19" width="36.74" height="35.42" fill="#E8F6EA"/>
<rect x="539.97" y="844.19" width="36.74" height="35.42" fill="#EBF7E3"/>
<rect x="576.1" y="844.19" width="36.74" height="35.42" fill="#E8F6EA"/>
<rect x="612.24" y="844.19" width="36.74" height="35.42" fill="#E6F5EE"/>
<rect x="648.38" y="844.19" width="36.74" height="35.42" fill="#E9F7E7"/>
<rect x="684.52" y="844.19" width="36.74" height="35.42" fill="#E8F6EA"/>
<rect x="720.66" y="844.19" width="36.74" height="35.42" fill="#E8F6EA"/>
<rect x="756.79" y="844.19" width="36.74" height="35.42" fill="#E6F5EE"/>
<rect x="792.93" y="844.19" width="36.74" height="35.42" fill="#E0F3F8"/>
<rect x="829.07" y="844.19" width="36.74" height="35.42" fill="#78A6CE"/>
<rect x="865.21" y="844.19" width="36.74" height="35.42" fill="#4575B4"/>
<rect x="901.34" y="844.19" width="36.74" height="35.42" fill="#6E9DC9"/>
<rect x="937.48" y="844.19" width="36.74" height="35.42" fill="#6E9DC9"/>
<rect x="973.62" y="844.19" width="36.74" height="35.42" fill="#E0F3F8"/>
<rect x="1009.76" y="844.19" width="36.74" height="35.42" fill="#F5FBD2"/>
<rect x="1045.9" y="844.19" width="36.74" height="35.42" fill="#F4794E"/>
<rect x="1082.03" y="844.19" width="36.74" height="35.42" fill="#FC9F65"/>
<rect x="1118.17" y="844.19" width="36.74" height="35.42" fill="#FDA96B"/>
<rect x="1154.31" y="844.19" width="36.74" height="35.42" fill="#FDBD79"/>
<rect x="1190.45" y="844.19" width="36.74" height="35.42" fill="#E24C36"/>
<rect x="1226.59" y="844.19" width="36.74" height="35.42" fill="#F4794E"/>
<rect x="1262.72" y="844.19" width="36.74" height="35.42" fill="#F4794E"/>
<rect x="1298.86" y="844.19" width="36.74" height="35.42" fill="#ED6845"/>
<rect x="287" y="879.01" width="36.74" height="35.42" fill="#FCFEC4"/>
<rect x="323.14" y="879.01" width="36.74" height="35.42" fill="#FAFDC8"/>
<rect x="359.28" y="879.01" width="36.74" height="35.42" fill="#FCFEC4"/>
<rect x="395.41" y="879.01" width="36.74" height="35.42" fill="#FEFFC1"/>
<rect x="431.55" y="879.01" width="36.74" height="35.42" fill="#E6F5EE"/>
<rect x="467.69" y="879.01" width="36.74" height="35.42" fill="#E8F6EA"/>
<rect x="503.83" y="879.01" width="36.74" height="35.42" fill="#EBF7E3"/>
<rect x="539.97" y="879.01" width="36.74" height="35.42" fill="#E9F7E7"/>
<rect x="576.1" y="879.01" width="36.74" height="35.42" fill="#E8F6EA"/>
<rect x="612.24" y="879.01" width="36.74" height="35.42" fill="#E9F7E7"/>
<rect x="648.38" y="879.01" width="36.74" height="35.42" fill="#EBF7E3"/>
<rect x="684.52" y="879.01" width="36.74" height="35.42" fill="#E8F6EA"/>
<rect x="720.66" y="879.01" width="36.74" height="35.42" fill="#E9F7E7"/>
<rect x="756.79" y="879.01" width="36.74" height="35.42" fill="#E6F5EE"/>
<rect x="792.93" y="879.01" width="36.74" height="35.42" fill="#E0F3F8"/>
<rect x="829.07" y="879.01" width="36.74" height="35.42" fill="#78A6CE"/>
<rect x="865.21" y="879.01" width="36.74" height="35.42" fill="#6E9DC9"/>
<rect x="901.34" y="879.01" width="36.74" height="35.42" fill="#4575B4"/>
<rect x="937.48" y="879.01" width="36.74" height="35.42" fill="#6594C5"/>
<rect x="973.62" y="879.01" width="36.74" height="35.42" fill="#E0F3F8"/>
<rect x="1009.76" y="879.01" width="36.74" height="35.42" fill="#F3FAD5"/>
<rect x="1045.9" y="879.01" width="36.74" height="35.42" fill="#FB8A57"/>
<rect x="1082.03" y="879.01" width="36.74" height="35.42" fill="#FDAE6F"/>
<rect x="1118.17" y="879.01" width="36.74" height="35.42" fill="#FDB875"/>
<rect x="1154.31" y="879.01" width="36.74" height="35.42" fill="#FECC83"/>
<rect x="1190.45" y="879.01" width="36.74" height="35.42" fill="#E7573C"/>
<rect x="1226.59" y="879.01" width="36.74" height="35.42" fill="#FB8A57"/>
<rect x="1262.72" y="879.01" width="36.74" height="35.42" fill="#FB8A57"/>
<rect x="1298.86" y="879.01" width="36.74" height="35.42" fill="#F4794E"/>
<rect x="287" y="913.83" width="36.74" height="35.42" fill="#FEFFC1"/>
<rect x="323.14" y="913.83" width="36.74" height="35.42" fill="#FCFEC4"/>
<rect x="359.28" y="913.83" width="36.74" height="35.42" fill="#FCFEC4"/>
<rect x="395.41" y="913.83" width="36.74" height="35.42" fill="#FFFEBE"/>
<rect x="431.55" y="913.83" width="36.74" height="35.42" fill="#E9F7E7"/>
<rect x="467.69" y="913.83" width="36.74" height="35.42" fill="#E9F7E7"/>
<rect x="503.83" y="913.83" width="36.74" height="35.42" fill="#EDF8E0"/>
<rect x="539.97" y="913.83" width="36.74" height="35.42" fill="#EFF9DC"/>
<rect x="576.1" y="913.83" width="36.74" height="35.42" fill="#E9F7E7"/>
<rect x="612.24" y="913.83" width="36.74" height="35.42" fill="#E9F7E7"/>
<rect x="648.38" y="913.83" width="36.74" height="35.42" fill="#EFF9DC"/>
<rect x="684.52" y="913.83" width="36.74" height="35.42" fill="#E9F7E7"/>
<rect x="720.66" y="913.83" width="36.74" height="35.42" fill="#EBF7E3"/>
<rect x="756.79" y="913.83" width="36.74" height="35.42" fill="#E9F7E7"/>
<rect x="792.93" y="913.83" width="36.74" height="35.42" fill="#E4F4F1"/>
<rect x="829.07" y="913.83" width="36.74" height="35.42" fill="#78A6CE"/>
<rect x="865.21" y="913.83" width="36.74" height="35.42" fill="#6E9DC9"/>
<rect x="901.34" y="913.83" width="36.74" height="35.42" fill="#6594C5"/>
<rect x="937.48" y="913.83" width="36.74" height="35.42" fill="#4575B4"/>
<rect x="973.62" y="913.83" width="36.74" height="35.42" fill="#E0F3F8"/>
<rect x="1009.76" y="913.83" width="36.74" height="35.42" fill="#F5FBD2"/>
<rect x="1045.9" y="913.83" width="36.74" height="35.42" fill="#FB8A57"/>
<rect x="1082.03" y="913.83" width="36.74" height="35.42" fill="#FC9F65"/>
<rect x="1118.17" y="913.83" width="36.74" height="35.42" fill="#FDAE6F"/>
<rect x="1154.31" y="913.83" width="36.74" height="35.42" fill="#FDC27C"/>
<rect x="1190.45" y="913.83" width="36.74" height="35.42" fill="#E45239"/>
<rect x="1226.59" y="913.83" width="36.74" height="35.42" fill="#FB8A57"/>
<rect x="1262.72" y="913.83" width="36.74" height="35.42" fill="#FB8A57"/>
<rect x="1298.86" y="913.83" width="36.74" height="35.42" fill="#F2744B"/>
<rect x="287" y="948.66" width="36.74" height="35.42" fill="#F1FAD9"/>
<rect x="323.14" y="948.66" width="36.74" height="35.42" fill="#F1FAD9"/>
<rect x="359.28" y="948.66" width="36.74" height="35.42" fill="#F3FAD5"/>
<rect x="395.41" y="948.66" width="36.74" height="35.42" fill="#F3FAD5"/>
<rect x="431.55" y="948.66" width="36.74" height="35.42" fill="#E4F4F1"/>
<rect x="467.69" y="948.66" width="36.74" height="35.42" fill="#E0F3F8"/>
<rect x="503.83" y="948.66" width="36.74" height="35.42" fill="#E6F5EE"/>
<rect x="539.97" y="948.66" width="36.74" height="35.42" fill="#E9F7E7"/>
<rect x="576.1" y="948.66" width="36.74" height="35.42" fill="#E6F5EE"/>
<rect x="612.24" y="948.66" width="36.74" height="35.42" fill="#E0F3F8"/>
<rect x="648.38" y="948.66" width="36.74" height="35.42" fill="#E6F5EE"/>
<rect x="684.52" y="948.66" width="36.74" height="35.42" fill="#E0F3F8"/>
<rect x="720.66" y="948.66" width="36.74" height="35.42" fill="#E0F3F8"/>
<rect x="756.79" y="948.66" width="36.74" height="35.42" fill="#D2EAF3"/>
<rect x="792.93" y="948.66" width="36.74" height="35.42" fill="#E0F3F8"/>
<rect x="829.07" y="948.66" width="36.74" height="35.42" fill="#E0F3F8"/>
<rect x="865.21" y="948.66" width="36.74" height="35.42" fill="#E0F3F8"/>
<rect x="901.34" y="948.66" width="36.74" height="35.42" fill="#E0F3F8"/>
<rect x="937.48" y="948.66" width="36.74" height="35.42" fill="#E0F3F8"/>
<rect x="973.62" y="948.66" width="36.74" height="35.42" fill="#4575B4"/>
<rect x="1009.76" y="948.66" width="36.74" height="35.42" fill="#E0F3F8"/>
<rect x="1045.9" y="948.66" width="36.74" height="35.42" fill="#FDBD79"/>
<rect x="1082.03" y="948.66" width="36.74" height="35.42" fill="#FEE293"/>
<rect x="1118.17" y="948.66" width="36.74" height="35.42" fill="#FEE699"/>
<rect x="1154.31" y="948.66" width="36.74" height="35.42" fill="#FEE99E"/>
<rect x="1190.45" y="948.66" width="36.74" height="35.42" fill="#ED6845"/>
<rect x="1226.59" y="948.66" width="36.74" height="35.42" fill="#FC9F65"/>
<rect x="1262.72" y="948.66" width="36.74" height="35.42" fill="#FC9A61"/>
<rect x="1298.86" y="948.66" width="36.74" height="35.42" fill="#FC905B"/>
<rect x="287" y="983.48" width="36.74" height="35.42" fill="#FEEDA4"/>
<rect x="323.14" y="983.48" width="36.74" height="35.42" fill="#FFFCBB"/>
<rect x="359.28" y="983.48" width="36.74" height="35.42" fill="#FFF7B2"/>
<rect x="395.41" y="983.48" width="36.74" height="35.42" fill="#FFF7B2"/>
<rect x="431.55" y="983.48" width="36.74" height="35.42" fill="#E0F3F8"/>
<rect x="467.69" y="983.48" width="36.74" height="35.42" fill="#EFF9DC"/>
<rect x="503.83" y="983.48" width="36.74" height="35.42" fill="#F5FBD2"/>
<rect x="539.97" y="983.48" width="36.74" height="35.42" fill="#E4F4F1"/>
<rect x="576.1" y="983.48" width="36.74" height="35.42" fill="#E4F4F1"/>
<rect x="612.24" y="983.48" width="36.74" height="35.42" fill="#E9F7E7"/>
<rect x="648.38" y="983.48" width="36.74" height="35.42" fill="#EDF8E0"/>
<rect x="684.52" y="983.48" width="36.74" height="35.42" fill="#DBF0F6"/>
<rect x="720.66" y="983.48" width="36.74" height="35.42" fill="#E6F5EE"/>
<rect x="756.79" y="983.48" width="36.74" height="35.42" fill="#EFF9DC"/>
<rect x="792.93" y="983.48" width="36.74" height="35.42" fill="#E9F7E7"/>
<rect x="829.07" y="983.48" width="36.74" height="35.42" fill="#E9F7E7"/>
<rect x="865.21" y="983.48" width="36.74" height="35.42" fill="#F5FBD2"/>
<rect x="901.34" y="983.48" width="36.74" height="35.42" fill="#F3FAD5"/>
<rect x="937.48" y="983.48" width="36.74" height="35.42" fill="#F5FBD2"/>
<rect x="973.62" y="983.48" width="36.74" height="35.42" fill="#E0F3F8"/>
<rect x="1009.76" y="983.48" width="36.74" height="35.42" fill="#4575B4"/>
<rect x="1045.9" y="983.48" width="36.74" height="35.42" fill="#FEE699"/>
<rect x="1082.03" y="983.48" width="36.74" height="35.42" fill="#FEEFA7"/>
<rect x="1118.17" y="983.48" width="36.74" height="35.42" fill="#FFF3AC"/>
<rect x="1154.31" y="983.48" width="36.74" height="35.42" fill="#FFFAB8"/>
<rect x="1190.45" y="983.48" width="36.74" height="35.42" fill="#ED6845"/>
<rect x="1226.59" y="983.48" width="36.74" height="35.42" fill="#FED186"/>
<rect x="1262.72" y="983.48" width="36.74" height="35.42" fill="#FDC77F"/>
<rect x="1298.86" y="983.48" width="36.74" height="35.42" fill="#FDA96B"/>
<rect x="287" y="1018.31" width="36.74" height="35.42" fill="#ED6845"/>
<rect x="323.14" y="1018.31" width="36.74" height="35.42" fill="#FC905B"/>
<rect x="359.28" y="1018.31" width="36.74" height="35.42" fill="#F67F51"/>
<rect x="395.41" y="1018.31" width="36.74" height="35.42" fill="#F4794E"/>
<rect x="431.55" y="1018.31" width="36.74" height="35.42" fill="#FDC77F"/>
<rect x="467.69" y="1018.31" width="36.74" height="35.42" fill="#FC9F65"/>
<rect x="503.83" y="1018.31" width="36.74" height="35.42" fill="#FC905B"/>
<rect x="539.97" y="1018.31" width="36.74" height="35.42" fill="#FED186"/>
<rect x="576.1" y="1018.31" width="36.74" height="35.42" fill="#FECC83"/>
<rect x="612.24" y="1018.31" width="36.74" height="35.42" fill="#FDB372"/>
<rect x="648.38" y="1018.31" width="36.74" height="35.42" fill="#FDA96B"/>
<rect x="684.52" y="1018.31" width="36.74" height="35.42" fill="#FEE293"/>
<rect x="720.66" y="1018.31" width="36.74" height="35.42" fill="#FED689"/>
<rect x="756.79" y="1018.31" width="36.74" height="35.42" fill="#FED186"/>
<rect x="792.93" y="1018.31" width="36.74" height="35.42" fill="#FED689"/>
<rect x="829.07" y="1018.31" width="36.74" height="35.42" fill="#FC905B"/>
<rect x="865.21" y="1018.31" width="36.74" height="35.42" fill="#F4794E"/>
<rect x="901.34" y="1018.31" width="36.74" height="35.42" fill="#FB8A57"/>
<rect x="937.48" y="1018.31" width="36.74" height="35.42" fill="#FB8A57"/>
<rect x="973.62" y="1018.31" width="36.74" height="35.42" fill="#FDBD79"/>
<rect x="1009.76" y="1018.31" width="36.74" height="35.42" fill="#FEE699"/>
<rect x="1045.9" y="1018.31" width="36.74" height="35.42" fill="#4575B4"/>
<rect x="1082.03" y="1018.31" width="36.74" height="35.42" fill="#93C1DC"/>
<rect x="1118.17" y="1018.31" width="36.74" height="35.42" fill="#A2CAE1"/>
<rect x="1154.31" y="1018.31" width="36.74" height="35.42" fill="#B5D7E8"/>
<rect x="1190.45" y="1018.31" width="36.74" height="35.42" fill="#ED6845"/>
<rect x="1226.59" y="1018.31" width="36.74" height="35.42" fill="#FEE090"/>
<rect x="1262.72" y="1018.31" width="36.74" height="35.42" fill="#FEDB8D"/>
<rect x="1298.86" y="1018.31" width="36.74" height="35.42" fill="#FECC83"/>
<rect x="287" y="1053.13" width="36.74" height="35.42" fill="#FC955E"/>
<rect x="323.14" y="1053.13" width="36.74" height="35.42" fill="#FDB372"/>
<rect x="359.28" y="1053.13" width="36.74" height="35.42" fill="#FDA468"/>
<rect x="395.41" y="1053.13" width="36.74" height="35.42" fill="#FDA468"/>
<rect x="431.55" y="1053.13" width="36.74" height="35.42" fill="#FEE293"/>
<rect x="467.69" y="1053.13" width="36.74" height="35.42" fill="#FDC77F"/>
<rect x="503.83" y="1053.13" width="36.74" height="35.42" fill="#FDB372"/>
<rect x="539.97" y="1053.13" width="36.74" height="35.42" fill="#FEE496"/>
<rect x="576.1" y="1053.13" width="36.74" height="35.42" fill="#FEE293"/>
<rect x="612.24" y="1053.13" width="36.74" height="35.42" fill="#FEDB8D"/>
<rect x="648.38" y="1053.13" width="36.74" height="35.42" fill="#FDC77F"/>
<rect x="684.52" y="1053.13" width="36.74" height="35.42" fill="#FEEDA4"/>
<rect x="720.66" y="1053.13" width="36.74" height="35.42" fill="#FEE699"/>
<rect x="756.79" y="1053.13" width="36.74" height="35.42" fill="#FEE699"/>
<rect x="792.93" y="1053.13" width="36.74" height="35.42" fill="#FEE89B"/>
<rect x="829.07" y="1053.13" width="36.74" height="35.42" fill="#FDB372"/>
<rect x="865.21" y="1053.13" width="36.74" height="35.42" fill="#FC9F65"/>
<rect x="901.34" y="1053.13" width="36.74" height="35.42" fill="#FDAE6F"/>
<rect x="937.48" y="1053.13" width="36.74" height="35.42" fill="#FC9F65"/>
<rect x="973.62" y="1053.13" width="36.74" height="35.42" fill="#FEE293"/>
<rect x="1009.76" y="1053.13" width="36.74" height="35.42" fill="#FEEFA7"/>
<rect x="1045.9" y="1053.13" width="36.74" height="35.42" fill="#93C1DC"/>
<rect x="1082.03" y="1053.13" width="36.74" height="35.42" fill="#4575B4"/>
<rect x="1118.17" y="1053.13" width="36.74" height="35.42" fill="#85B4D5"/>
<rect x="1154.31" y="1053.13" width="36.74" height="35.42" fill="#8AB8D7"/>
<rect x="1190.45" y="1053.13" width="36.74" height="35.42" fill="#FC955E"/>
<rect x="1226.59" y="1053.13" width="36.74" height="35.42" fill="#FEE699"/>
<rect x="1262.72" y="1053.13" width="36.74" height="35.42" fill="#FEE699"/>
<rect x="1298.86" y="1053.13" width="36.74" height="35.42" fill="#FEE293"/>
<rect x="287" y="1087.96" width="36.74" height="35.42" fill="#FDA96B"/>
<rect x="323.14" y="1087.96" width="36.74" height="35.42" fill="#FECC83"/>
<rect x="359.28" y="1087.96" width="36.74" height="35.42" fill="#FDBD79"/>
<rect x="395.41" y="1087.96" width="36.74" height="35.42" fill="#FDBD79"/>
<rect x="431.55" y="1087.96" width="36.74" height="35.42" fill="#FEE89B"/>
<rect x="467.69" y="1087.96" width="36.74" height="35.42" fill="#FEDB8D"/>
<rect x="503.83" y="1087.96" width="36.74" height="35.42" fill="#FECC83"/>
<rect x="539.97" y="1087.96" width="36.74" height="35.42" fill="#FEE89B"/>
<rect x="576.1" y="1087.96" width="36.74" height="35.42" fill="#FEE99E"/>
<rect x="612.24" y="1087.96" width="36.74" height="35.42" fill="#FEE699"/>
<rect x="648.38" y="1087.96" width="36.74" height="35.42" fill="#FEE090"/>
<rect x="684.52" y="1087.96" width="36.74" height="35.42" fill="#FFF3AC"/>
<rect x="720.66" y="1087.96" width="36.74" height="35.42" fill="#FEEDA4"/>
<rect x="756.79" y="1087.96" width="36.74" height="35.42" fill="#FEE99E"/>
<rect x="792.93" y="1087.96" width="36.74" height="35.42" fill="#FEE99E"/>
<rect x="829.07" y="1087.96" width="36.74" height="35.42" fill="#FDBD79"/>
<rect x="865.21" y="1087.96" width="36.74" height="35.42" fill="#FDA96B"/>
<rect x="901.34" y="1087.96" width="36.74" height="35.42" fill="#FDB875"/>
<rect x="937.48" y="1087.96" width="36.74" height="35.42" fill="#FDAE6F"/>
<rect x="973.62" y="1087.96" width="36.74" height="35.42" fill="#FEE699"/>
<rect x="1009.76" y="1087.96" width="36.74" height="35.42" fill="#FFF3AC"/>
<rect x="1045.9" y="1087.96" width="36.74" height="35.42" fill="#A2CAE1"/>
<rect x="1082.03" y="1087.96" width="36.74" height="35.42" fill="#85B4D5"/>
<rect x="1118.17" y="1087.96" width="36.74" height="35.42" fill="#4575B4"/>
<rect x="1154.31" y="1087.96" width="36.74" height="35.42" fill="#78A6CE"/>
<rect x="1190.45" y="1087.96" width="36.74" height="35.42" fill="#F67F51"/>
<rect x="1226.59" y="1087.96" width="36.74" height="35.42" fill="#FEE293"/>
<rect x="1262.72" y="1087.96" width="36.74" height="35.42" fill="#FEDB8D"/>
<rect x="1298.86" y="1087.96" width="36.74" height="35.42" fill="#FECC83"/>
<rect x="287" y="1122.78" width="36.74" height="35.42" fill="#FDB372"/>
<rect x="323.14" y="1122.78" width="36.74" height="35.42" fill="#FEDB8D"/>
<rect x="359.28" y="1122.78" width="36.74" height="35.42" fill="#FDC77F"/>
<rect x="395.41" y="1122.78" width="36.74" height="35.42" fill="#FDC77F"/>
<rect x="431.55" y="1122.78" width="36.74" height="35.42" fill="#FEEBA1"/>
<rect x="467.69" y="1122.78" width="36.74" height="35.42" fill="#FEE496"/>
<rect x="503.83" y="1122.78" width="36.74" height="35.42" fill="#FEE090"/>
<rect x="539.97" y="1122.78" width="36.74" height="35.42" fill="#FEE99E"/>
<rect x="576.1" y="1122.78" width="36.74" height="35.42" fill="#FEE99E"/>
<rect x="612.24" y="1122.78" width="36.74" height="35.42" fill="#FEE89B"/>
<rect x="648.38" y="1122.78" width="36.74" height="35.42" fill="#FEE293"/>
<rect x="684.52" y="1122.78" width="36.74" height="35.42" fill="#FFF7B2"/>
<rect x="720.66" y="1122.78" width="36.74" height="35.42" fill="#FEEFA7"/>
<rect x="756.79" y="1122.78" width="36.74" height="35.42" fill="#FEEDA4"/>
<rect x="792.93" y="1122.78" width="36.74" height="35.42" fill="#FEEBA1"/>
<rect x="829.07" y="1122.78" width="36.74" height="35.42" fill="#FED689"/>
<rect x="865.21" y="1122.78" width="36.74" height="35.42" fill="#FDBD79"/>
<rect x="901.34" y="1122.78" width="36.74" height="35.42" fill="#FECC83"/>
<rect x="937.48" y="1122.78" width="36.74" height="35.42" fill="#FDC27C"/>
<rect x="973.62" y="1122.78" width="36.74" height="35.42" fill="#FEE99E"/>
<rect x="1009.76" y="1122.78" width="36.74" height="35.42" fill="#FFFAB8"/>
<rect x="1045.9" y="1122.78" width="36.74" height="35.42" fill="#B5D7E8"/>
<rect x="1082.03" y="1122.78" width="36.74" height="35.42" fill="#8AB8D7"/>
<rect x="1118.17" y="1122.78" width="36.74" height="35.42" fill="#78A6CE"/>
<rect x="1154.31" y="1122.78" width="36.74" height="35.42" fill="#4575B4"/>
<rect x="1190.45" y="1122.78" width="36.74" height="35.42" fill="#FDA468"/>
<rect x="1226.59" y="1122.78" width="36.74" height="35.42" fill="#FEE89B"/>
<rect x="1262.72" y="1122.78" width="36.74" height="35.42" fill="#FEE699"/>
<rect x="1298.86" y="1122.78" width="36.74" height="35.42" fill="#FEE293"/>
<rect x="287" y="1157.6" width="36.74" height="35.42" fill="#D9362A"/>
<rect x="323.14" y="1157.6" width="36.74" height="35.42" fill="#DB3B2D"/>
<rect x="359.28" y="1157.6" width="36.74" height="35.42" fill="#D73027"/>
<rect x="395.41" y="1157.6" width="36.74" height="35.42" fill="#D73027"/>
<rect x="431.55" y="1157.6" width="36.74" height="35.42" fill="#E45239"/>
<rect x="467.69" y="1157.6" width="36.74" height="35.42" fill="#E04733"/>
<rect x="503.83" y="1157.6" width="36.74" height="35.42" fill="#DE4130"/>
<rect x="539.97" y="1157.6" width="36.74" height="35.42" fill="#DE4130"/>
<rect x="576.1" y="1157.6" width="36.74" height="35.42" fill="#DE4130"/>
<rect x="612.24" y="1157.6" width="36.74" height="35.42" fill="#DE4130"/>
<rect x="648.38" y="1157.6" width="36.74" height="35.42" fill="#D9362A"/>
<rect x="684.52" y="1157.6" width="36.74" height="35.42" fill="#E45239"/>
<rect x="720.66" y="1157.6" width="36.74" height="35.42" fill="#E04733"/>
<rect x="756.79" y="1157.6" width="36.74" height="35.42" fill="#E45239"/>
<rect x="792.93" y="1157.6" width="36.74" height="35.42" fill="#E45239"/>
<rect x="829.07" y="1157.6" width="36.74" height="35.42" fill="#E7573C"/>
<rect x="865.21" y="1157.6" width="36.74" height="35.42" fill="#E24C36"/>
<rect x="901.34" y="1157.6" width="36.74" height="35.42" fill="#E7573C"/>
<rect x="937.48" y="1157.6" width="36.74" height="35.42" fill="#E45239"/>
<rect x="973.62" y="1157.6" width="36.74" height="35.42" fill="#ED6845"/>
<rect x="1009.76" y="1157.6" width="36.74" height="35.42" fill="#ED6845"/>
<rect x="1045.9" y="1157.6" width="36.74" height="35.42" fill="#ED6845"/>
<rect x="1082.03" y="1157.6" width="36.74" height="35.42" fill="#FC955E"/>
<rect x="1118.17" y="1157.6" width="36.74" height="35.42" fill="#F67F51"/>
<rect x="1154.31" y="1157.6" width="36.74" height="35.42" fill="#FDA468"/>
<rect x="1190.45" y="1157.6" width="36.74" height="35.42" fill="#4575B4"/>
<rect x="1226.59" y="1157.6" width="36.74" height="35.42" fill="#FAFDC8"/>
<rect x="1262.72" y="1157.6" width="36.74" height="35.42" fill="#EBF7E3"/>
<rect x="1298.86" y="1157.6" width="36.74" height="35.42" fill="#E4F4F1"/>
<rect x="287" y="1192.43" width="36.74" height="35.42" fill="#DE4130"/>
<rect x="323.14" y="1192.43" width="36.74" height="35.42" fill="#E95D3F"/>
<rect x="359.28" y="1192.43" width="36.74" height="35.42" fill="#E04733"/>
<rect x="395.41" y="1192.43" width="36.74" height="35.42" fill="#E04733"/>
<rect x="431.55" y="1192.43" width="36.74" height="35.42" fill="#FC955E"/>
<rect x="467.69" y="1192.43" width="36.74" height="35.42" fill="#F4794E"/>
<rect x="503.83" y="1192.43" width="36.74" height="35.42" fill="#ED6845"/>
<rect x="539.97" y="1192.43" width="36.74" height="35.42" fill="#FC905B"/>
<rect x="576.1" y="1192.43" width="36.74" height="35.42" fill="#FB8A57"/>
<rect x="612.24" y="1192.43" width="36.74" height="35.42" fill="#F4794E"/>
<rect x="648.38" y="1192.43" width="36.74" height="35.42" fill="#EB6342"/>
<rect x="684.52" y="1192.43" width="36.74" height="35.42" fill="#FC9F65"/>
<rect x="720.66" y="1192.43" width="36.74" height="35.42" fill="#FC905B"/>
<rect x="756.79" y="1192.43" width="36.74" height="35.42" fill="#FC955E"/>
<rect x="792.93" y="1192.43" width="36.74" height="35.42" fill="#FC9A61"/>
<rect x="829.07" y="1192.43" width="36.74" height="35.42" fill="#FB8A57"/>
<rect x="865.21" y="1192.43" width="36.74" height="35.42" fill="#F4794E"/>
<rect x="901.34" y="1192.43" width="36.74" height="35.42" fill="#FB8A57"/>
<rect x="937.48" y="1192.43" width="36.74" height="35.42" fill="#FB8A57"/>
<rect x="973.62" y="1192.43" width="36.74" height="35.42" fill="#FC9F65"/>
<rect x="1009.76" y="1192.43" width="36.74" height="35.42" fill="#FED186"/>
<rect x="1045.9" y="1192.43" width="36.74" height="35.42" fill="#FEE090"/>
<rect x="1082.03" y="1192.43" width="36.74" height="35.42" fill="#FEE699"/>
<rect x="1118.17" y="1192.43" width="36.74" height="35.42" fill="#FEE293"/>
<rect x="1154.31" y="1192.43" width="36.74" height="35.42" fill="#FEE89B"/>
<rect x="1190.45" y="1192.43" width="36.74" height="35.42" fill="#FAFDC8"/>
<rect x="1226.59" y="1192.43" width="36.74" height="35.42" fill="#4575B4"/>
<rect x="1262.72" y="1192.43" width="36.74" height="35.42" fill="#C8E3EF"/>
<rect x="1298.86" y="1192.43" width="36.74" height="35.42" fill="#D2EAF3"/>
<rect x="287" y="1227.25" width="36.74" height="35.42" fill="#DE4130"/>
<rect x="323.14" y="1227.25" width="36.74" height="35.42" fill="#E24C36"/>
<rect x="359.28" y="1227.25" width="36.74" height="35.42" fill="#DE4130"/>
<rect x="395.41" y="1227.25" width="36.74" height="35.42" fill="#DE4130"/>
<rect x="431.55" y="1227.25" width="36.74" height="35.42" fill="#FC955E"/>
<rect x="467.69" y="1227.25" width="36.74" height="35.42" fill="#ED6845"/>
<rect x="503.83" y="1227.25" width="36.74" height="35.42" fill="#E95D3F"/>
<rect x="539.97" y="1227.25" width="36.74" height="35.42" fill="#F98554"/>
<rect x="576.1" y="1227.25" width="36.74" height="35.42" fill="#F4794E"/>
<rect x="612.24" y="1227.25" width="36.74" height="35.42" fill="#ED6845"/>
<rect x="648.38" y="1227.25" width="36.74" height="35.42" fill="#E95D3F"/>
<rect x="684.52" y="1227.25" width="36.74" height="35.42" fill="#FC955E"/>
<rect x="720.66" y="1227.25" width="36.74" height="35.42" fill="#F67F51"/>
<rect x="756.79" y="1227.25" width="36.74" height="35.42" fill="#FC905B"/>
<rect x="792.93" y="1227.25" width="36.74" height="35.42" fill="#FC955E"/>
<rect x="829.07" y="1227.25" width="36.74" height="35.42" fill="#FB8A57"/>
<rect x="865.21" y="1227.25" width="36.74" height="35.42" fill="#F4794E"/>
<rect x="901.34" y="1227.25" width="36.74" height="35.42" fill="#FB8A57"/>
<rect x="937.48" y="1227.25" width="36.74" height="35.42" fill="#FB8A57"/>
<rect x="973.62" y="1227.25" width="36.74" height="35.42" fill="#FC9A61"/>
<rect x="1009.76" y="1227.25" width="36.74" height="35.42" fill="#FDC77F"/>
<rect x="1045.9" y="1227.25" width="36.74" height="35.42" fill="#FEDB8D"/>
<rect x="1082.03" y="1227.25" width="36.74" height="35.42" fill="#FEE699"/>
<rect x="1118.17" y="1227.25" width="36.74" height="35.42" fill="#FEDB8D"/>
<rect x="1154.31" y="1227.25" width="36.74" height="35.42" fill="#FEE699"/>
<rect x="1190.45" y="1227.25" width="36.74" height="35.42" fill="#EBF7E3"/>
<rect x="1226.59" y="1227.25" width="36.74" height="35.42" fill="#C8E3EF"/>
<rect x="1262.72" y="1227.25" width="36.74" height="35.42" fill="#4575B4"/>
<rect x="1298.86" y="1227.25" width="36.74" height="35.42" fill="#ABD0E5"/>
<rect x="287" y="1262.08" width="36.74" height="35.42" fill="#DB3B2D"/>
<rect x="323.14" y="1262.08" width="36.74" height="35.42" fill="#E04733"/>
<rect x="359.28" y="1262.08" width="36.74" height="35.42" fill="#DB3B2D"/>
<rect x="395.41" y="1262.08" width="36.74" height="35.42" fill="#DB3B2D"/>
<rect x="431.55" y="1262.08" width="36.74" height="35.42" fill="#F67F51"/>
<rect x="467.69" y="1262.08" width="36.74" height="35.42" fill="#EB6342"/>
<rect x="503.83" y="1262.08" width="36.74" height="35.42" fill="#E7573C"/>
<rect x="539.97" y="1262.08" width="36.74" height="35.42" fill="#F06E48"/>
<rect x="576.1" y="1262.08" width="36.74" height="35.42" fill="#F06E48"/>
<rect x="612.24" y="1262.08" width="36.74" height="35.42" fill="#E95D3F"/>
<rect x="648.38" y="1262.08" width="36.74" height="35.42" fill="#E45239"/>
<rect x="684.52" y="1262.08" width="36.74" height="35.42" fill="#F98554"/>
<rect x="720.66" y="1262.08" width="36.74" height="35.42" fill="#F2744B"/>
<rect x="756.79" y="1262.08" width="36.74" height="35.42" fill="#F67F51"/>
<rect x="792.93" y="1262.08" width="36.74" height="35.42" fill="#F98554"/>
<rect x="829.07" y="1262.08" width="36.74" height="35.42" fill="#F2744B"/>
<rect x="865.21" y="1262.08" width="36.74" height="35.42" fill="#ED6845"/>
<rect x="901.34" y="1262.08" width="36.74" height="35.42" fill="#F4794E"/>
<rect x="937.48" y="1262.08" width="36.74" height="35.42" fill="#F2744B"/>
<rect x="973.62" y="1262.08" width="36.74" height="35.42" fill="#FC905B"/>
<rect x="1009.76" y="1262.08" width="36.74" height="35.42" fill="#FDA96B"/>
<rect x="1045.9" y="1262.08" width="36.74" height="35.42" fill="#FECC83"/>
<rect x="1082.03" y="1262.08" width="36.74" height="35.42" fill="#FEE293"/>
<rect x="1118.17" y="1262.08" width="36.74" height="35.42" fill="#FECC83"/>
<rect x="1154.31" y="1262.08" width="36.74" height="35.42" fill="#FEE293"/>
<rect x="1190.45" y="1262.08" width="36.74" height="35.42" fill="#E4F4F1"/>
<rect x="1226.59" y="1262.08" width="36.74" height="35.42" fill="#D2EAF3"/>
<rect x="1262.72" y="1262.08" width="36.74" height="35.42" fill="#ABD0E5"/>
<rect x="1298.86" y="1262.08" width="36.74" height="35.42" fill="#4575B4"/>
</g>
<rect x="1335" y="285" width="4" height="1015.9" fill="#fff"/>
<rect x="285" y="1296.9" width="1054" height="4" fill="#fff"/>
<g shape-rendering="crispEdges">
<rect x="287" y="233.0" width="145.15" height="42.0" fill="#E31A1C"/>
<rect x="233.0" y="287" width="42.0" height="139.9" fill="#E31A1C"/>
<rect x="431.55" y="233.0" width="109.01" height="42.0" fill="#A6CEE3"/>
<rect x="233.0" y="426.3" width="42.0" height="105.07" fill="#A6CEE3"/>
<rect x="539.97" y="233.0" width="145.15" height="42.0" fill="#33A02C"/>
<rect x="233.0" y="530.77" width="42.0" height="139.9" fill="#33A02C"/>
<rect x="684.52" y="233.0" width="145.15" height="42.0" fill="#B2DF8A"/>
<rect x="233.0" y="670.07" width="42.0" height="139.9" fill="#B2DF8A"/>
<rect x="829.07" y="233.0" width="145.15" height="42.0" fill="#1F78B4"/>
<rect x="233.0" y="809.36" width="42.0" height="139.9" fill="#1F78B4"/>
<rect x="973.62" y="233.0" width="72.88" height="42.0" fill="#FB9A99"/>
<rect x="233.0" y="948.66" width="42.0" height="70.25" fill="#FB9A99"/>
<rect x="1045.9" y="233.0" width="145.15" height="42.0" fill="#FF7F00"/>
<rect x="233.0" y="1018.31" width="42.0" height="139.9" fill="#FF7F00"/>
<rect x="1190.45" y="233.0" width="144.55" height="42.0" fill="#FDBF6F"/>
<rect x="233.0" y="1157.6" width="42.0" height="139.3" fill="#FDBF6F"/>
</g>
<path d="M377.34 229L377.34 222.6L413.48 222.6L413.48 229M341.21 229L341.21 219.6L395.41 219.6L395.41 222.6M305.07 229L305.07 206L368.31 206L368.31 219.6M485.76 229L485.76 216.6L521.9 216.6L521.9 229M449.62 229L449.62 199.4L503.83 199.4L503.83 216.6M558.03 229L558.03 216L594.17 216L594.17 229M630.31 229L630.31 212.6L666.45 212.6L666.45 229M576.1 216L576.1 207L648.38 207L648.38 212.6M702.59 229L702.59 216L738.72 216L738.72 229M774.86 229L774.86 213.6L811 213.6L811 229M720.66 216L720.66 202.2L792.93 202.2L792.93 213.6M612.24 207L612.24 185.2L756.79 185.2L756.79 202.2M476.72 199.4L476.72 176.5L684.52 176.5L684.52 185.2M919.41 229L919.41 221.6L955.55 221.6L955.55 229M883.28 229L883.28 218L937.48 218L937.48 221.6M847.14 229L847.14 211.6L910.38 211.6L910.38 218M991.69 229L991.69 189L1027.83 189L1027.83 229M878.76 211.6L878.76 165.3L1009.76 165.3L1009.76 189M580.62 176.5L580.62 164.5L944.26 164.5L944.26 165.3M336.69 206L336.69 147.5L762.44 147.5L762.44 164.5M1136.24 229L1136.24 212.6L1172.38 212.6L1172.38 229M1100.1 229L1100.1 206L1154.31 206L1154.31 212.6M1063.97 229L1063.97 184L1127.21 184L1127.21 206M1280.79 229L1280.79 206.4L1316.93 206.4L1316.93 229M1244.66 229L1244.66 196.2L1298.86 196.2L1298.86 206.4M1208.52 229L1208.52 167L1271.76 167L1271.76 196.2M1095.59 184L1095.59 86.7L1240.14 86.7L1240.14 167M549.56 147.5L549.56 10.4L1167.86 10.4L1167.86 86.7" stroke="#000" stroke-width="3.1" fill="none" stroke-linecap="butt" stroke-linejoin="round"/>
<path d="M229 374.06L222.6 374.06L222.6 408.88L229 408.88M229 339.24L219.6 339.24L219.6 391.47L222.6 391.47M229 304.41L206 304.41L206 365.35L219.6 365.35M229 478.53L216.6 478.53L216.6 513.36L229 513.36M229 443.71L199.4 443.71L199.4 495.94L216.6 495.94M229 548.18L216 548.18L216 583.01L229 583.01M229 617.83L212.6 617.83L212.6 652.65L229 652.65M216 565.59L207 565.59L207 635.24L212.6 635.24M229 687.48L216 687.48L216 722.3L229 722.3M229 757.13L213.6 757.13L213.6 791.95L229 791.95M216 704.89L202.2 704.89L202.2 774.54L213.6 774.54M207 600.42L185.2 600.42L185.2 739.71L202.2 739.71M199.4 469.83L176.5 469.83L176.5 670.07L185.2 670.07M229 896.42L221.6 896.42L221.6 931.25L229 931.25M229 861.6L218 861.6L218 913.83L221.6 913.83M229 826.77L211.6 826.77L211.6 887.72L218 887.72M229 966.07L189 966.07L189 1000.89L229 1000.89M211.6 857.25L165.3 857.25L165.3 983.48L189 983.48M176.5 569.95L164.5 569.95L164.5 920.36L165.3 920.36M206 334.88L147.5 334.88L147.5 745.16L164.5 745.16M229 1105.37L212.6 1105.37L212.6 1140.19L229 1140.19M229 1070.54L206 1070.54L206 1122.78L212.6 1122.78M229 1035.72L184 1035.72L184 1096.66L206 1096.66M229 1244.66L206.4 1244.66L206.4 1279.49L229 1279.49M229 1209.84L196.2 1209.84L196.2 1262.08L206.4 1262.08M229 1175.02L167 1175.02L167 1235.96L196.2 1235.96M184 1066.19L86.7 1066.19L86.7 1205.49L167 1205.49M147.5 540.02L10.4 540.02L10.4 1135.84L86.7 1135.84" stroke="#000" stroke-width="3.1" fill="none" stroke-linecap="butt" stroke-linejoin="round"/>
<text x="1346.6" y="315.11" font-size="29.17" letter-spacing="0.13">P8304_106</text>
<text x="1346.6" y="349.94" font-size="29.17" letter-spacing="0.13">P8304_108</text>
<text x="1346.6" y="384.76" font-size="29.17" letter-spacing="0.13">P8304_105</text>
<text x="1346.6" y="419.58" font-size="29.17" letter-spacing="0.13">P8304_107</text>
<text x="1346.6" y="454.41" font-size="29.17" letter-spacing="0.13">P8304_117</text>
<text x="1346.6" y="489.23" font-size="29.17" letter-spacing="0.13">P8304_119</text>
<text x="1346.6" y="524.06" font-size="29.17" letter-spacing="0.13">P8304_120</text>
<text x="1346.6" y="558.88" font-size="29.17" letter-spacing="0.13">P8304_109</text>
<text x="1346.6" y="593.71" font-size="29.17" letter-spacing="0.13">P8304_111</text>
<text x="1346.6" y="628.53" font-size="29.17" letter-spacing="0.13">P8304_110</text>
<text x="1346.6" y="663.35" font-size="29.17" letter-spacing="0.13">P8304_112</text>
<text x="1346.6" y="698.18" font-size="29.17" letter-spacing="0.13">P8304_101</text>
<text x="1346.6" y="733" font-size="29.17" letter-spacing="0.13">P8304_103</text>
<text x="1346.6" y="767.83" font-size="29.17" letter-spacing="0.13">P8304_102</text>
<text x="1346.6" y="802.65" font-size="29.17" letter-spacing="0.13">P8304_104</text>
<text x="1346.6" y="837.47" font-size="29.17" letter-spacing="0.13">P8304_116</text>
<text x="1346.6" y="872.3" font-size="29.17" letter-spacing="0.13">P8304_115</text>
<text x="1346.6" y="907.12" font-size="29.17" letter-spacing="0.13">P8304_113</text>
<text x="1346.6" y="941.95" font-size="29.17" letter-spacing="0.13">P8304_114</text>
<text x="1346.6" y="976.77" font-size="29.17" letter-spacing="0.13">P8304_123</text>
<text x="1346.6" y="1011.59" font-size="29.17" letter-spacing="0.13">P8304_124</text>
<text x="1346.6" y="1046.42" font-size="29.17" letter-spacing="0.13">P8304_129</text>
<text x="1346.6" y="1081.24" font-size="29.17" letter-spacing="0.13">P8304_130</text>
<text x="1346.6" y="1116.07" font-size="29.17" letter-spacing="0.13">P8304_131</text>
<text x="1346.6" y="1150.89" font-size="29.17" letter-spacing="0.13">P8304_132</text>
<text x="1346.6" y="1185.72" font-size="29.17" letter-spacing="0.13">P8304_127</text>
<text x="1346.6" y="1220.54" font-size="29.17" letter-spacing="0.13">P8304_125</text>
<text x="1346.6" y="1255.36" font-size="29.17" letter-spacing="0.13">P8304_126</text>
<text x="1346.6" y="1290.19" font-size="29.17" letter-spacing="0.13">P8304_128</text>
<text transform="translate(294.47 1309.3) rotate(90)" font-size="29.17" letter-spacing="-0.14">P8304_106</text>
<text transform="translate(330.61 1309.3) rotate(90)" font-size="29.17" letter-spacing="-0.14">P8304_108</text>
<text transform="translate(366.74 1309.3) rotate(90)" font-size="29.17" letter-spacing="-0.14">P8304_105</text>
<text transform="translate(402.88 1309.3) rotate(90)" font-size="29.17" letter-spacing="-0.14">P8304_107</text>
<text transform="translate(439.02 1309.3) rotate(90)" font-size="29.17" letter-spacing="-0.14">P8304_117</text>
<text transform="translate(475.16 1309.3) rotate(90)" font-size="29.17" letter-spacing="-0.14">P8304_119</text>
<text transform="translate(511.3 1309.3) rotate(90)" font-size="29.17" letter-spacing="-0.14">P8304_120</text>
<text transform="translate(547.43 1309.3) rotate(90)" font-size="29.17" letter-spacing="-0.14">P8304_109</text>
<text transform="translate(583.57 1309.3) rotate(90)" font-size="29.17" letter-spacing="-0.14">P8304_111</text>
<text transform="translate(619.71 1309.3) rotate(90)" font-size="29.17" letter-spacing="-0.14">P8304_110</text>
<text transform="translate(655.85 1309.3) rotate(90)" font-size="29.17" letter-spacing="-0.14">P8304_112</text>
<text transform="translate(691.99 1309.3) rotate(90)" font-size="29.17" letter-spacing="-0.14">P8304_101</text>
<text transform="translate(728.12 1309.3) rotate(90)" font-size="29.17" letter-spacing="-0.14">P8304_103</text>
<text transform="translate(764.26 1309.3) rotate(90)" font-size="29.17" letter-spacing="-0.14">P8304_102</text>
<text transform="translate(800.4 1309.3) rotate(90)" font-size="29.17" letter-spacing="-0.14">P8304_104</text>
<text transform="translate(836.54 1309.3) rotate(90)" font-size="29.17" letter-spacing="-0.14">P8304_116</text>
<text transform="translate(872.68 1309.3) rotate(90)" font-size="29.17" letter-spacing="-0.14">P8304_115</text>
<text transform="translate(908.81 1309.3) rotate(90)" font-size="29.17" letter-spacing="-0.14">P8304_113</text>
<text transform="translate(944.95 1309.3) rotate(90)" font-size="29.17" letter-spacing="-0.14">P8304_114</text>
<text transform="translate(981.09 1309.3) rotate(90)" font-size="29.17" letter-spacing="-0.14">P8304_123</text>
<text transform="translate(1017.23 1309.3) rotate(90)" font-size="29.17" letter-spacing="-0.14">P8304_124</text>
<text transform="translate(1053.37 1309.3) rotate(90)" font-size="29.17" letter-spacing="-0.14">P8304_129</text>
<text transform="translate(1089.5 1309.3) rotate(90)" font-size="29.17" letter-spacing="-0.14">P8304_130</text>
<text transform="translate(1125.64 1309.3) rotate(90)" font-size="29.17" letter-spacing="-0.14">P8304_131</text>
<text transform="translate(1161.78 1309.3) rotate(90)" font-size="29.17" letter-spacing="-0.14">P8304_132</text>
<text transform="translate(1197.92 1309.3) rotate(90)" font-size="29.17" letter-spacing="-0.14">P8304_127</text>
<text transform="translate(1234.06 1309.3) rotate(90)" font-size="29.17" letter-spacing="-0.14">P8304_125</text>
<text transform="translate(1270.19 1309.3) rotate(90)" font-size="29.17" letter-spacing="-0.14">P8304_126</text>
<text transform="translate(1306.33 1309.3) rotate(90)" font-size="29.17" letter-spacing="-0.14">P8304_128</text>
<text class="b" x="1346.7" y="269" font-size="41.67">patient</text>
<text class="b" transform="translate(238.9 1309.2) rotate(90)" font-size="41.67" letter-spacing="-0.2">patient</text>
<g shape-rendering="crispEdges">
<rect x="1538.0" y="848.54" width="43.0" height="6.86" fill="#4575B4"/>
<rect x="1538.0" y="842.28" width="43.0" height="6.86" fill="#4A79B6"/>
<rect x="1538.0" y="836.03" width="43.0" height="6.86" fill="#4E7EB9"/>
<rect x="1538.0" y="829.77" width="43.0" height="6.86" fill="#5382BB"/>
<rect x="1538.0" y="823.51" width="43.0" height="6.86" fill="#5787BD"/>
<rect x="1538.0" y="817.25" width="43.0" height="6.86" fill="#5C8BC0"/>
<rect x="1538.0" y="810.99" width="43.0" height="6.86" fill="#6190C2"/>
<rect x="1538.0" y="804.74" width="43.0" height="6.86" fill="#6594C5"/>
<rect x="1538.0" y="798.48" width="43.0" height="6.86" fill="#6A99C7"/>
<rect x="1538.0" y="792.22" width="43.0" height="6.86" fill="#6E9DC9"/>
<rect x="1538.0" y="785.96" width="43.0" height="6.86" fill="#73A2CC"/>
<rect x="1538.0" y="779.7" width="43.0" height="6.86" fill="#78A6CE"/>
<rect x="1538.0" y="773.45" width="43.0" height="6.86" fill="#7CABD0"/>
<rect x="1538.0" y="767.19" width="43.0" height="6.86" fill="#81AFD3"/>
<rect x="1538.0" y="760.93" width="43.0" height="6.86" fill="#85B4D5"/>
<rect x="1538.0" y="754.67" width="43.0" height="6.86" fill="#8AB8D7"/>
<rect x="1538.0" y="748.41" width="43.0" height="6.86" fill="#8FBDDA"/>
<rect x="1538.0" y="742.16" width="43.0" height="6.86" fill="#93C1DC"/>
<rect x="1538.0" y="735.9" width="43.0" height="6.86" fill="#98C4DE"/>
<rect x="1538.0" y="729.64" width="43.0" height="6.86" fill="#9DC7DF"/>
<rect x="1538.0" y="723.38" width="43.0" height="6.86" fill="#A2CAE1"/>
<rect x="1538.0" y="717.12" width="43.0" height="6.86" fill="#A7CDE3"/>
<rect x="1538.0" y="710.87" width="43.0" height="6.86" fill="#ABD0E5"/>
<rect x="1538.0" y="704.61" width="43.0" height="6.86" fill="#B0D3E6"/>
<rect x="1538.0" y="698.35" width="43.0" height="6.86" fill="#B5D7E8"/>
<rect x="1538.0" y="692.09" width="43.0" height="6.86" fill="#BADAEA"/>
<rect x="1538.0" y="685.83" width="43.0" height="6.86" fill="#BEDDEC"/>
<rect x="1538.0" y="679.58" width="43.0" height="6.86" fill="#C3E0ED"/>
<rect x="1538.0" y="673.32" width="43.0" height="6.86" fill="#C8E3EF"/>
<rect x="1538.0" y="667.06" width="43.0" height="6.86" fill="#CDE6F1"/>
<rect x="1538.0" y="660.8" width="43.0" height="6.86" fill="#D2EAF3"/>
<rect x="1538.0" y="654.54" width="43.0" height="6.86" fill="#D6EDF4"/>
<rect x="1538.0" y="648.29" width="43.0" height="6.86" fill="#DBF0F6"/>
<rect x="1538.0" y="642.03" width="43.0" height="6.86" fill="#E0F3F8"/>
<rect x="1538.0" y="635.77" width="43.0" height="6.86" fill="#E2F4F5"/>
<rect x="1538.0" y="629.51" width="43.0" height="6.86" fill="#E4F4F1"/>
<rect x="1538.0" y="623.25" width="43.0" height="6.86" fill="#E6F5EE"/>
<rect x="1538.0" y="617" width="43.0" height="6.86" fill="#E8F6EA"/>
<rect x="1538.0" y="610.74" width="43.0" height="6.86" fill="#E9F7E7"/>
<rect x="1538.0" y="604.48" width="43.0" height="6.86" fill="#EBF7E3"/>
<rect x="1538.0" y="598.22" width="43.0" height="6.86" fill="#EDF8E0"/>
<rect x="1538.0" y="591.96" width="43.0" height="6.86" fill="#EFF9DC"/>
<rect x="1538.0" y="585.71" width="43.0" height="6.86" fill="#F1FAD9"/>
<rect x="1538.0" y="579.45" width="43.0" height="6.86" fill="#F3FAD5"/>
<rect x="1538.0" y="573.19" width="43.0" height="6.86" fill="#F5FBD2"/>
<rect x="1538.0" y="566.93" width="43.0" height="6.86" fill="#F7FCCF"/>
<rect x="1538.0" y="560.67" width="43.0" height="6.86" fill="#F8FCCB"/>
<rect x="1538.0" y="554.42" width="43.0" height="6.86" fill="#FAFDC8"/>
<rect x="1538.0" y="548.16" width="43.0" height="6.86" fill="#FCFEC4"/>
<rect x="1538.0" y="541.9" width="43.0" height="6.86" fill="#FEFFC1"/>
<rect x="1538.0" y="535.64" width="43.0" height="6.86" fill="#FFFEBE"/>
<rect x="1538.0" y="529.38" width="43.0" height="6.86" fill="#FFFCBB"/>
<rect x="1538.0" y="523.13" width="43.0" height="6.86" fill="#FFFAB8"/>
<rect x="1538.0" y="516.87" width="43.0" height="6.86" fill="#FFF8B5"/>
<rect x="1538.0" y="510.61" width="43.0" height="6.86" fill="#FFF7B2"/>
<rect x="1538.0" y="504.35" width="43.0" height="6.86" fill="#FFF5AF"/>
<rect x="1538.0" y="498.09" width="43.0" height="6.86" fill="#FFF3AC"/>
<rect x="1538.0" y="491.84" width="43.0" height="6.86" fill="#FFF1AA"/>
<rect x="1538.0" y="485.58" width="43.0" height="6.86" fill="#FEEFA7"/>
<rect x="1538.0" y="479.32" width="43.0" height="6.86" fill="#FEEDA4"/>
<rect x="1538.0" y="473.06" width="43.0" height="6.86" fill="#FEEBA1"/>
<rect x="1538.0" y="466.8" width="43.0" height="6.86" fill="#FEE99E"/>
<rect x="1538.0" y="460.55" width="43.0" height="6.86" fill="#FEE89B"/>
<rect x="1538.0" y="454.29" width="43.0" height="6.86" fill="#FEE699"/>
<rect x="1538.0" y="448.03" width="43.0" height="6.86" fill="#FEE496"/>
<rect x="1538.0" y="441.77" width="43.0" height="6.86" fill="#FEE293"/>
<rect x="1538.0" y="435.51" width="43.0" height="6.86" fill="#FEE090"/>
<rect x="1538.0" y="429.26" width="43.0" height="6.86" fill="#FEDB8D"/>
<rect x="1538.0" y="423" width="43.0" height="6.86" fill="#FED689"/>
<rect x="1538.0" y="416.74" width="43.0" height="6.86" fill="#FED186"/>
<rect x="1538.0" y="410.48" width="43.0" height="6.86" fill="#FECC83"/>
<rect x="1538.0" y="404.22" width="43.0" height="6.86" fill="#FDC77F"/>
<rect x="1538.0" y="397.97" width="43.0" height="6.86" fill="#FDC27C"/>
<rect x="1538.0" y="391.71" width="43.0" height="6.86" fill="#FDBD79"/>
<rect x="1538.0" y="385.45" width="43.0" height="6.86" fill="#FDB875"/>
<rect x="1538.0" y="379.19" width="43.0" height="6.86" fill="#FDB372"/>
<rect x="1538.0" y="372.93" width="43.0" height="6.86" fill="#FDAE6F"/>
<rect x="1538.0" y="366.68" width="43.0" height="6.86" fill="#FDA96B"/>
<rect x="1538.0" y="360.42" width="43.0" height="6.86" fill="#FDA468"/>
<rect x="1538.0" y="354.16" width="43.0" height="6.86" fill="#FC9F65"/>
<rect x="1538.0" y="347.9" width="43.0" height="6.86" fill="#FC9A61"/>
<rect x="1538.0" y="341.64" width="43.0" height="6.86" fill="#FC955E"/>
<rect x="1538.0" y="335.39" width="43.0" height="6.86" fill="#FC905B"/>
<rect x="1538.0" y="329.13" width="43.0" height="6.86" fill="#FB8A57"/>
<rect x="1538.0" y="322.87" width="43.0" height="6.86" fill="#F98554"/>
<rect x="1538.0" y="316.61" width="43.0" height="6.86" fill="#F67F51"/>
<rect x="1538.0" y="310.35" width="43.0" height="6.86" fill="#F4794E"/>
<rect x="1538.0" y="304.1" width="43.0" height="6.86" fill="#F2744B"/>
<rect x="1538.0" y="297.84" width="43.0" height="6.86" fill="#F06E48"/>
<rect x="1538.0" y="291.58" width="43.0" height="6.86" fill="#ED6845"/>
<rect x="1538.0" y="285.32" width="43.0" height="6.86" fill="#EB6342"/>
<rect x="1538.0" y="279.06" width="43.0" height="6.86" fill="#E95D3F"/>
<rect x="1538.0" y="272.81" width="43.0" height="6.86" fill="#E7573C"/>
<rect x="1538.0" y="266.55" width="43.0" height="6.86" fill="#E45239"/>
<rect x="1538.0" y="260.29" width="43.0" height="6.86" fill="#E24C36"/>
<rect x="1538.0" y="254.03" width="43.0" height="6.86" fill="#E04733"/>
<rect x="1538.0" y="247.77" width="43.0" height="6.86" fill="#DE4130"/>
<rect x="1538.0" y="241.52" width="43.0" height="6.86" fill="#DB3B2D"/>
<rect x="1538.0" y="235.26" width="43.0" height="6.86" fill="#D9362A"/>
<rect x="1538.0" y="229" width="43.0" height="6.86" fill="#D73027"/>
</g>
<rect x="1537.0" y="854.8" width="45.0" height="3" fill="#fff"/>
<text x="1596.5" y="868.8" font-size="41.67">0</text>
<text x="1596.5" y="783.77" font-size="41.67">5</text>
<text x="1596.5" y="698.75" font-size="41.67">10</text>
<text x="1596.5" y="613.72" font-size="41.67">15</text>
<text x="1596.5" y="528.69" font-size="41.67">20</text>
<text x="1596.5" y="443.66" font-size="41.67">25</text>
<text x="1596.5" y="358.64" font-size="41.67">30</text>
<text x="1596.5" y="273.61" font-size="41.67">35</text>
<text class="b" x="1675" y="828.8" font-size="41.67">patient</text>
<g shape-rendering="crispEdges">
<rect x="1676.0" y="844.2" width="60.799999999999955" height="60.67" fill="#A6CEE3"/>
<rect x="1676.0" y="904.27" width="60.799999999999955" height="60.67" fill="#1F78B4"/>
<rect x="1676.0" y="964.34" width="60.799999999999955" height="60.67" fill="#B2DF8A"/>
<rect x="1676.0" y="1024.41" width="60.799999999999955" height="60.67" fill="#33A02C"/>
<rect x="1676.0" y="1084.48" width="60.799999999999955" height="60.67" fill="#FB9A99"/>
<rect x="1676.0" y="1144.55" width="60.799999999999955" height="60.67" fill="#E31A1C"/>
<rect x="1676.0" y="1204.62" width="60.799999999999955" height="60.67" fill="#FDBF6F"/>
<rect x="1676.0" y="1264.69" width="60.799999999999955" height="60.07" fill="#FF7F00"/>
</g>
<text x="1748" y="889.24" font-size="41.67">121T10571_12</text>
<text x="1748" y="949.31" font-size="41.67">134_T6443_11</text>
<text x="1748" y="1009.38" font-size="41.67">153_ST132_13</text>
<text x="1748" y="1069.45" font-size="41.67">24_TD9169_08</text>
<text x="1748" y="1129.52" font-size="41.67">29_T1942_08</text>
<text x="1748" y="1189.59" font-size="41.67">61_T1538_07</text>
<text x="1748" y="1249.66" font-size="41.67">TD11549_17_O</text>
<text x="1748" y="1309.73" font-size="41.67">TD11558_17_L</text>
</svg></body></html>
